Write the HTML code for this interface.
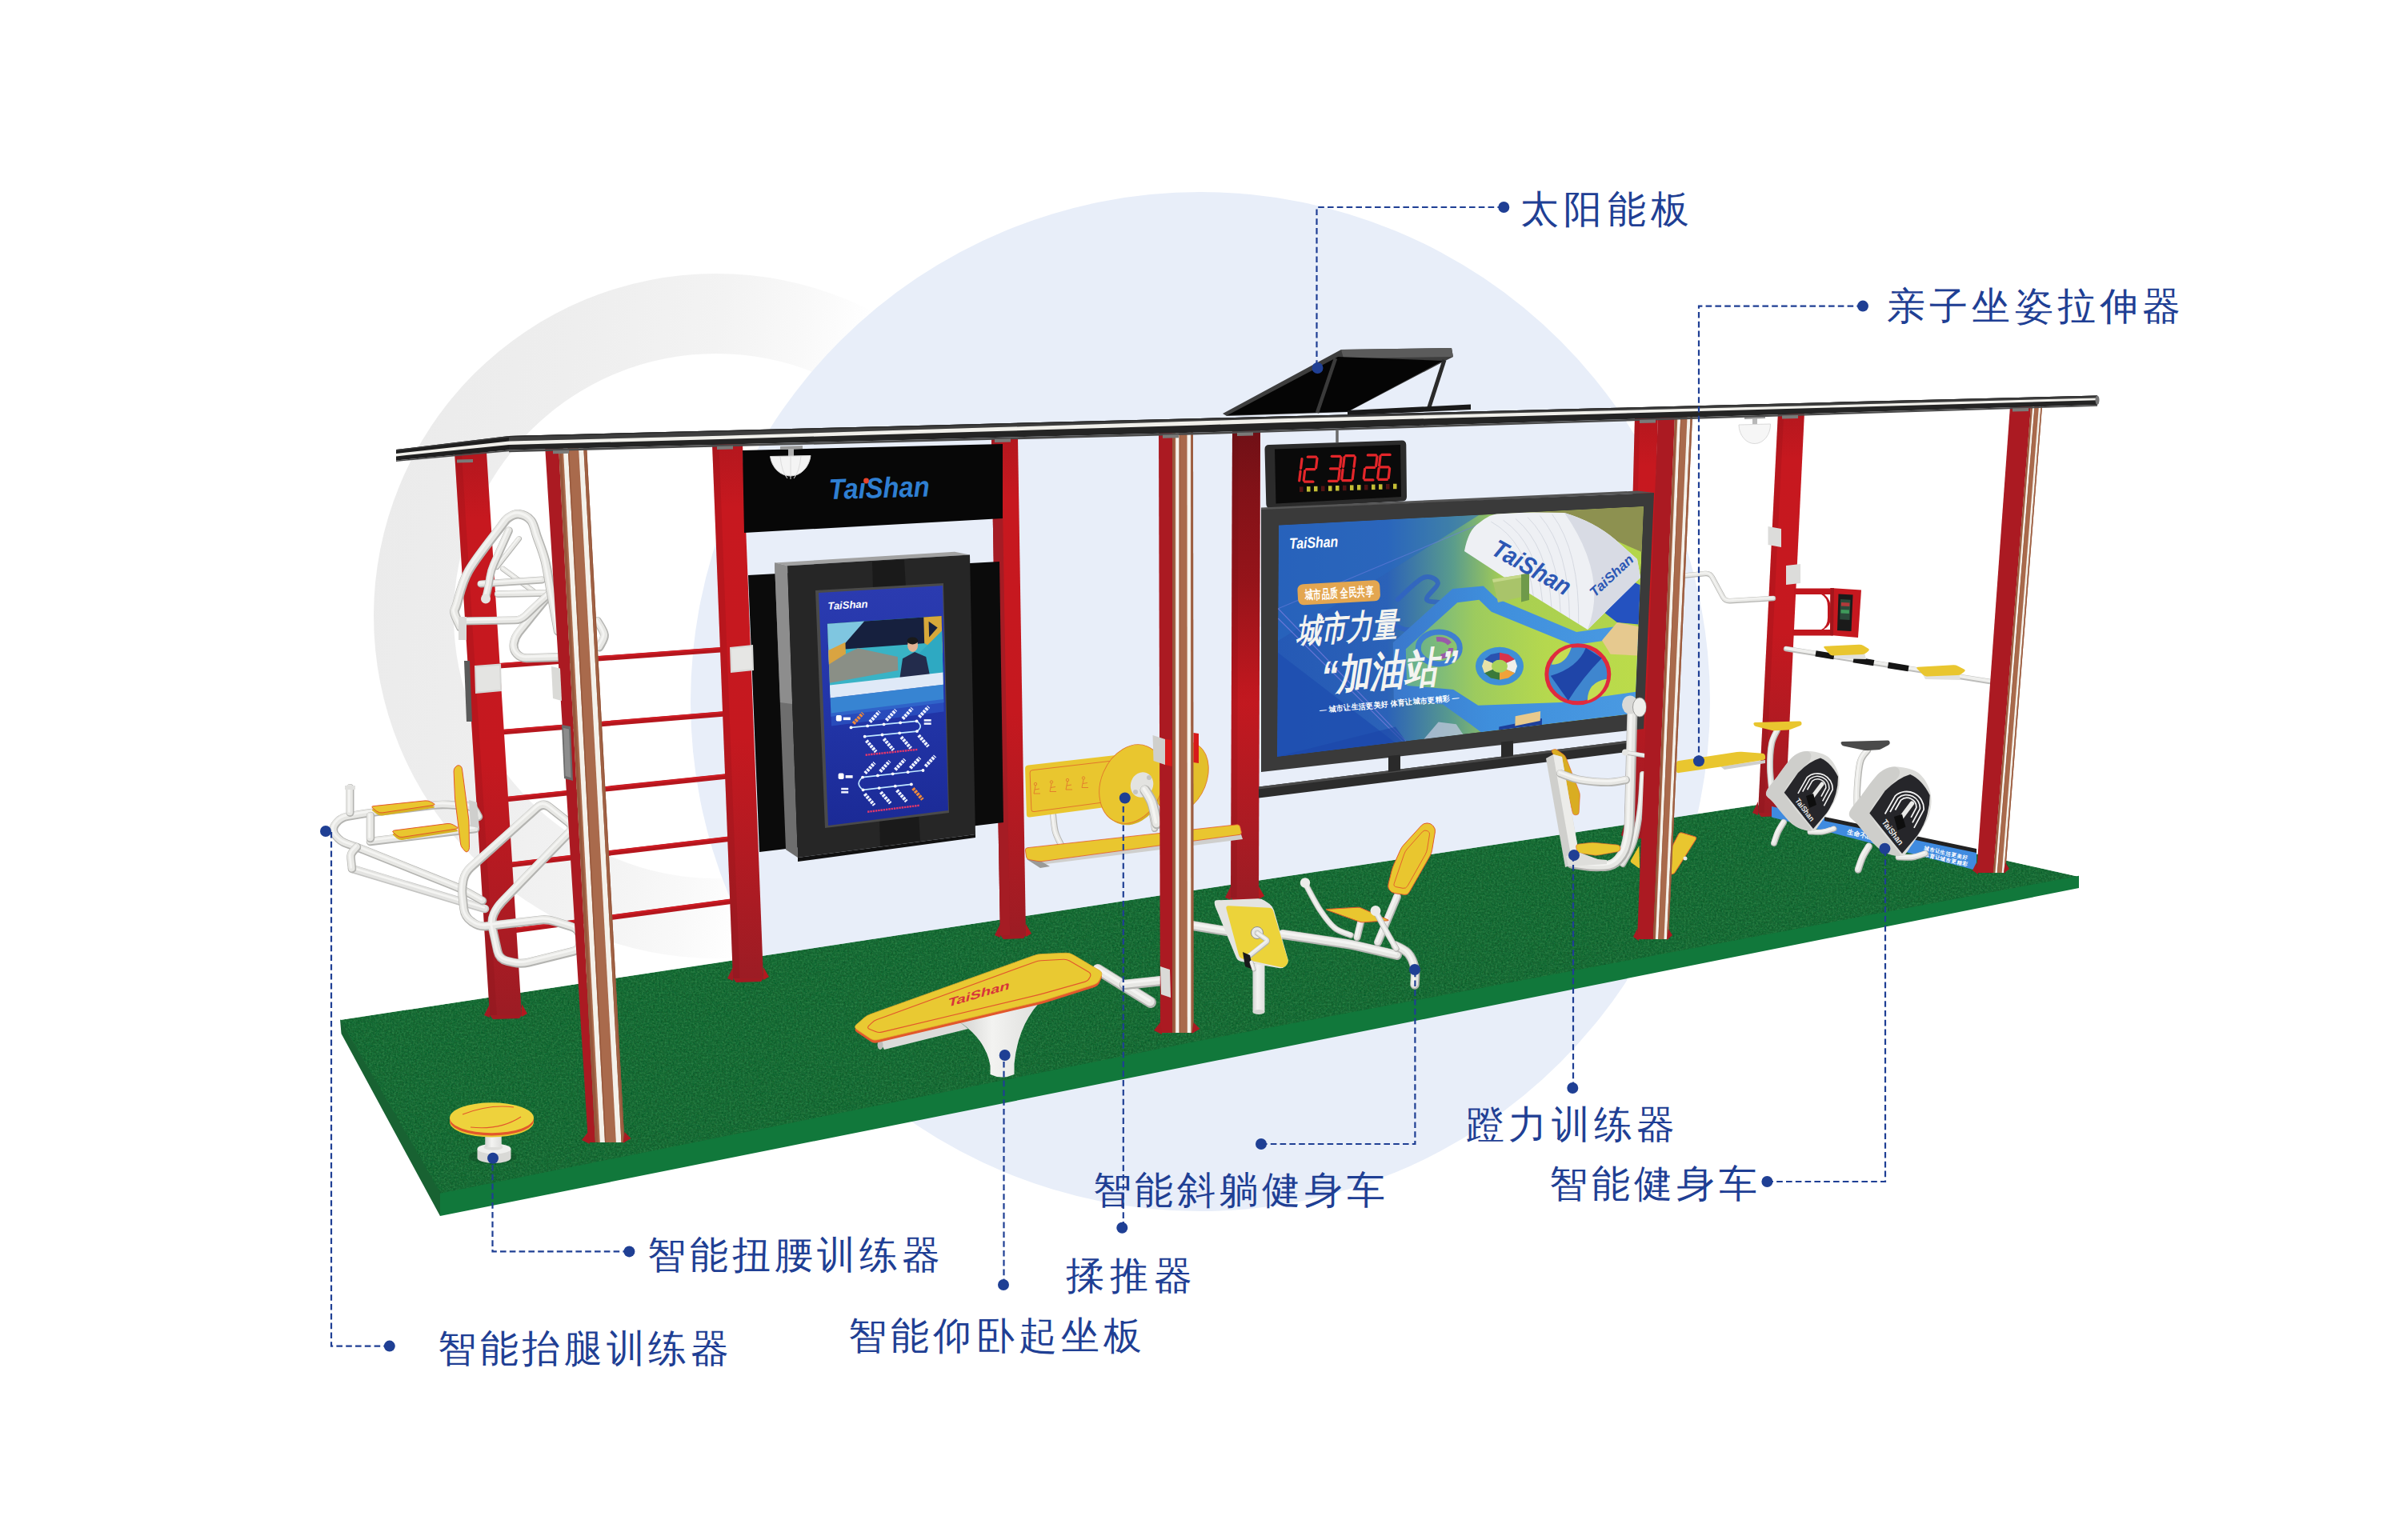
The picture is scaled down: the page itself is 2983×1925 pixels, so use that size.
<!DOCTYPE html>
<html><head><meta charset="utf-8"><title>TaiShan smart fitness station</title>
<style>html,body{margin:0;padding:0;background:#fff}svg{display:block}text{font-family:"Liberation Sans",sans-serif}</style>
</head><body>
<svg width="2983" height="1925" viewBox="0 0 2983 1925">
<defs>
<linearGradient id="ringg" x1="0" y1="0" x2="1" y2="0.21">
 <stop offset="0" stop-color="#eaeaea"/><stop offset="0.3" stop-color="#eeeeee"/><stop offset="0.5" stop-color="#f3f3f3"/><stop offset="0.62" stop-color="#f9f9f9"/><stop offset="0.71" stop-color="#ffffff"/><stop offset="1" stop-color="#ffffff"/>
</linearGradient>
<filter id="grass" x="0" y="0" width="100%" height="100%">
 <feTurbulence type="fractalNoise" baseFrequency="0.42" numOctaves="2" seed="3" result="n"/>
 <feColorMatrix in="n" type="matrix" values="0 0 0 0 0  0 0 0 0 0  0 0 0 0 0  0.9 0 0 0 -0.32" result="a"/>
 <feFlood flood-color="#0c3f1e"/><feComposite in2="a" operator="in" result="dark"/>
 <feColorMatrix in="n" type="matrix" values="0 0 0 0 0  0 0 0 0 0  0 0 0 0 0  0 0.9 0 0 -0.36" result="b"/>
 <feFlood flood-color="#3a9a58"/><feComposite in2="b" operator="in" result="light"/>
 <feMerge><feMergeNode in="SourceGraphic"/><feMergeNode in="dark"/><feMergeNode in="light"/></feMerge>
 <feComposite in2="SourceGraphic" operator="in"/>
</filter>
<linearGradient id="redp" x1="0" y1="0" x2="1" y2="0">
 <stop offset="0" stop-color="#a81a22"/><stop offset="0.35" stop-color="#c4181f"/><stop offset="1" stop-color="#c9191f"/>
</linearGradient>
<linearGradient id="redd" x1="0" y1="0" x2="1" y2="0">
 <stop offset="0" stop-color="#9c1c24"/><stop offset="1" stop-color="#ab1b23"/>
</linearGradient>
<linearGradient id="posterg" x1="0" y1="0" x2="1" y2="0">
 <stop offset="0" stop-color="#2559b5"/><stop offset="0.3" stop-color="#2b62b8"/><stop offset="0.48" stop-color="#5a9c8c"/><stop offset="0.62" stop-color="#a8cf52"/><stop offset="1" stop-color="#b4d64a"/>
</linearGradient>
<linearGradient id="kioskg" x1="0" y1="0" x2="0" y2="1">
 <stop offset="0" stop-color="#2b3bb0"/><stop offset="0.5" stop-color="#2235a8"/><stop offset="1" stop-color="#1b2a96"/>
</linearGradient>
<linearGradient id="whiteg" x1="0" y1="0" x2="1" y2="0">
 <stop offset="0" stop-color="#d4d4d2"/><stop offset="0.4" stop-color="#f3f3f1"/><stop offset="1" stop-color="#dededc"/>
</linearGradient>
</defs>
<rect x="0" y="0" width="2983" height="1925" fill="#ffffff"/>
<path d="M895 342 A428 428 0 1 0 895.01 1198 A428 428 0 1 0 895 342 Z M895 442 A328 328 0 1 1 894.99 1098 A328 328 0 1 1 895 442 Z" fill="url(#ringg)" fill-rule="evenodd"/>
<circle cx="1500.0" cy="877.0" r="637.0" fill="#e8eef9" />
<polygon points="425.0,1275.0 550.0,1493.0 1500.0,1302.0 2598.0,1096.0 2196.0,1006.0" fill="#1c6a36" filter="url(#grass)"/>
<polygon points="425.0,1274.0 551.0,1492.0 550.0,1520.0 426.5,1292.0" fill="#186232" />
<polygon points="550.0,1491.8 1500.0,1300.8 2598.0,1094.8 2598.0,1110.0 550.0,1520.0" fill="#11783b" />
<line x1="620.0" y1="832.5" x2="904.0" y2="812.0" stroke="#b5161d" stroke-width="6.5" />
<line x1="620.0" y1="830.5" x2="904.0" y2="810.0" stroke="#d01c24" stroke-width="2" />
<line x1="623.0" y1="915.5" x2="909.0" y2="892.0" stroke="#b5161d" stroke-width="6.5" />
<line x1="623.0" y1="913.5" x2="909.0" y2="890.0" stroke="#d01c24" stroke-width="2" />
<line x1="629.0" y1="999.5" x2="912.0" y2="970.0" stroke="#b5161d" stroke-width="6.5" />
<line x1="629.0" y1="997.5" x2="912.0" y2="968.0" stroke="#d01c24" stroke-width="2" />
<line x1="634.0" y1="1081.5" x2="917.0" y2="1048.0" stroke="#b5161d" stroke-width="6.5" />
<line x1="634.0" y1="1079.5" x2="917.0" y2="1046.0" stroke="#d01c24" stroke-width="2" />
<line x1="639.0" y1="1163.5" x2="919.0" y2="1126.0" stroke="#b5161d" stroke-width="6.5" />
<line x1="639.0" y1="1161.5" x2="919.0" y2="1124.0" stroke="#d01c24" stroke-width="2" />
<linearGradient id="pg1" gradientUnits="userSpaceOnUse" x1="0" y1="565" x2="0" y2="1269"><stop offset="0" stop-color="#b4171e"/><stop offset="0.12" stop-color="#c7181f"/><stop offset="0.55" stop-color="#c5181f"/><stop offset="0.85" stop-color="#ab1b23"/><stop offset="1" stop-color="#9c1c24"/></linearGradient>
<polygon points="568.0,565.0 608.0,565.0 652.0,1269.0 612.0,1269.0" fill="url(#pg1)" />
<polygon points="568.0,565.0 576.8,565.0 620.8,1269.0 612.0,1269.0" fill="#7a0f16" opacity="0.18"/>
<polygon points="612.0,1255.0 605.0,1269.0 612.0,1272.0" fill="#a31a22" />
<polygon points="652.0,1255.0 659.0,1267.0 652.0,1271.0" fill="#b3181f" />
<polygon points="612.0,1269.0 652.0,1269.0 649.0,1273.0 616.0,1274.0" fill="#a31a22" />
<linearGradient id="pg2" gradientUnits="userSpaceOnUse" x1="0" y1="555" x2="0" y2="1223"><stop offset="0" stop-color="#b4171e"/><stop offset="0.12" stop-color="#c7181f"/><stop offset="0.55" stop-color="#c5181f"/><stop offset="0.85" stop-color="#ab1b23"/><stop offset="1" stop-color="#9c1c24"/></linearGradient>
<polygon points="890.0,555.0 928.0,555.0 954.0,1223.0 916.0,1223.0" fill="url(#pg2)" />
<polygon points="890.0,555.0 898.4,555.0 924.4,1223.0 916.0,1223.0" fill="#7a0f16" opacity="0.18"/>
<polygon points="916.0,1209.0 909.0,1223.0 916.0,1226.0" fill="#a31a22" />
<polygon points="954.0,1209.0 961.0,1221.0 954.0,1225.0" fill="#b3181f" />
<polygon points="916.0,1223.0 954.0,1223.0 951.0,1227.0 920.0,1228.0" fill="#a31a22" />
<linearGradient id="pg3" gradientUnits="userSpaceOnUse" x1="0" y1="548" x2="0" y2="1169"><stop offset="0" stop-color="#b4171e"/><stop offset="0.12" stop-color="#c7181f"/><stop offset="0.55" stop-color="#c5181f"/><stop offset="0.85" stop-color="#ab1b23"/><stop offset="1" stop-color="#9c1c24"/></linearGradient>
<polygon points="1239.0,548.0 1272.0,548.0 1282.0,1169.0 1250.0,1169.0" fill="url(#pg3)" />
<polygon points="1239.0,548.0 1246.3,548.0 1257.0,1169.0 1250.0,1169.0" fill="#7a0f16" opacity="0.18"/>
<polygon points="1239.0,548.0 1251.5,548.0 1262.2,1169.0 1250.0,1169.0" fill="#a51c24" />
<polygon points="1250.0,1155.0 1243.0,1169.0 1250.0,1172.0" fill="#a31a22" />
<polygon points="1282.0,1155.0 1289.0,1167.0 1282.0,1171.0" fill="#b3181f" />
<polygon points="1250.0,1169.0 1282.0,1169.0 1279.0,1173.0 1254.0,1174.0" fill="#a31a22" />
<linearGradient id="pg4" gradientUnits="userSpaceOnUse" x1="0" y1="538" x2="0" y2="1122"><stop offset="0" stop-color="#b4171e"/><stop offset="0.12" stop-color="#c7181f"/><stop offset="0.55" stop-color="#c5181f"/><stop offset="0.85" stop-color="#ab1b23"/><stop offset="1" stop-color="#9c1c24"/></linearGradient>
<polygon points="1540.0,538.0 1575.0,538.0 1573.0,1122.0 1538.0,1122.0" fill="url(#pg4)" />
<polygon points="1540.0,538.0 1547.7,538.0 1545.7,1122.0 1538.0,1122.0" fill="#7a0f16" opacity="0.18"/>
<polygon points="1538.0,1108.0 1531.0,1122.0 1538.0,1125.0" fill="#a31a22" />
<polygon points="1573.0,1108.0 1580.0,1120.0 1573.0,1124.0" fill="#b3181f" />
<polygon points="1538.0,1122.0 1573.0,1122.0 1570.0,1126.0 1542.0,1127.0" fill="#a31a22" />
<linearGradient id="p6sh" gradientUnits="userSpaceOnUse" x1="0" y1="540" x2="0" y2="880"><stop offset="0" stop-color="#5a0e13" stop-opacity="0.75"/><stop offset="0.55" stop-color="#5a0e13" stop-opacity="0.45"/><stop offset="1" stop-color="#5a0e13" stop-opacity="0"/></linearGradient>
<polygon points="1540.0,538.0 1575.0,538.0 1574.0,880.0 1539.0,880.0" fill="url(#p6sh)" />
<linearGradient id="pg5" gradientUnits="userSpaceOnUse" x1="0" y1="520" x2="0" y2="1044"><stop offset="0" stop-color="#b4171e"/><stop offset="0.12" stop-color="#c7181f"/><stop offset="0.55" stop-color="#c5181f"/><stop offset="0.85" stop-color="#ab1b23"/><stop offset="1" stop-color="#9c1c24"/></linearGradient>
<polygon points="2043.0,520.0 2072.0,520.0 2056.0,1044.0 2030.0,1044.0" fill="url(#pg5)" />
<polygon points="2043.0,520.0 2049.4,520.0 2035.7,1044.0 2030.0,1044.0" fill="#7a0f16" opacity="0.18"/>
<polygon points="2030.0,1030.0 2026.0,1044.0 2030.0,1047.0" fill="#a31a22" />
<polygon points="2056.0,1030.0 2060.0,1042.0 2056.0,1046.0" fill="#b3181f" />
<polygon points="2030.0,1044.0 2056.0,1044.0 2053.0,1048.0 2034.0,1049.0" fill="#a31a22" />
<linearGradient id="pg6" gradientUnits="userSpaceOnUse" x1="0" y1="515" x2="0" y2="1016"><stop offset="0" stop-color="#b4171e"/><stop offset="0.12" stop-color="#c7181f"/><stop offset="0.55" stop-color="#c5181f"/><stop offset="0.85" stop-color="#ab1b23"/><stop offset="1" stop-color="#9c1c24"/></linearGradient>
<polygon points="2222.0,515.0 2255.0,515.0 2231.0,1016.0 2197.0,1016.0" fill="url(#pg6)" />
<polygon points="2222.0,515.0 2229.3,515.0 2204.5,1016.0 2197.0,1016.0" fill="#7a0f16" opacity="0.18"/>
<polygon points="2197.0,1002.0 2190.0,1016.0 2197.0,1019.0" fill="#a31a22" />
<polygon points="2231.0,1002.0 2238.0,1014.0 2231.0,1018.0" fill="#b3181f" />
<polygon points="2197.0,1016.0 2231.0,1016.0 2228.0,1020.0 2201.0,1021.0" fill="#a31a22" />
<polygon points="928.0,563.0 1253.0,555.0 1253.0,648.0 930.0,666.0" fill="#070707" />
<text transform="translate(1036,624) rotate(-1.6)" font-size="36" font-weight="bold" font-style="italic" fill="#2f7fd2" textLength="126" lengthAdjust="spacingAndGlyphs">TaıShan</text>
<circle cx="1082.5" cy="601.0" r="3.4" fill="#e8442a" />
<polygon points="975.0,558.0 1003.0,557.0 1003.0,561.0 975.0,562.0" fill="#9a9a9a" />
<polygon points="985.0,561.0 992.0,561.0 992.0,571.0 985.0,571.0" fill="#b0b0b0" />
<path d="M962.5 570.5 L1013 569.5 A25.5 29 0 0 1 962.5 570.5 Z" fill="#f4f4f4" stroke="#d5d5d5" stroke-width="1"/>
<path d="M975 571 Q977 590 984 598 M988 570 L988 599 M1001 570 Q999 590 992 598" fill="none" stroke="#dcdcdc" stroke-width="1"/>
<polygon points="2180.0,521.0 2206.0,520.0 2206.0,523.0 2180.0,524.0" fill="#9a9a9a" />
<polygon points="2190.0,523.0 2196.0,523.0 2196.0,531.0 2190.0,531.0" fill="#b8b8b8" />
<path d="M2173 531 L2212.5 530 A19.7 24 0 0 1 2173 531 Z" fill="#f6f6f6" stroke="#dadada" stroke-width="1"/>
<polygon points="935.0,719.0 1249.0,702.0 1254.0,1028.0 949.0,1065.0" fill="#0b0b0b" />
<polygon points="968.0,703.5 984.0,707.3 997.0,1072.0 982.0,1062.0" fill="#6e6e6e" />
<polygon points="968.0,703.5 984.0,707.3 990.0,880.0 975.0,878.0" fill="#8d8d8d" />
<polygon points="968.0,703.5 1193.0,689.7 1212.0,693.5 984.0,707.3" fill="#a2a2a2" />
<polygon points="984.0,707.3 1212.0,693.5 1219.0,1043.0 997.0,1072.0" fill="#262626" />
<polygon points="1090.0,702.0 1130.0,699.5 1150.0,1051.0 1100.0,1058.0" fill="#1a1a1a" />
<polygon points="1019.0,738.0 1179.0,729.0 1186.0,1016.0 1031.0,1035.0" fill="#4a4a4a" />
<polygon points="1023.0,741.0 1178.0,732.0 1185.0,1013.0 1035.0,1032.0" fill="url(#kioskg)" />
<text transform="translate(1034.7,762.1) rotate(-3.3)" font-size="13" font-weight="bold" font-style="italic" fill="#ffffff">TaiShan</text>
<polygon points="1033.9,779.7 1176.6,770.1 1178.8,855.8 1037.4,868.2" fill="#39b3c6" />
<polygon points="1033.9,779.7 1176.6,770.1 1177.4,802.4 1035.2,813.1" fill="#16203e" />
<polygon points="1033.9,779.7 1080.2,776.6 1035.8,827.6" fill="#7fc6e0" />
<polygon points="1035.8,827.6 1072.1,810.3 1121.8,820.9 1122.3,837.9 1036.9,853.7" fill="#8a8f86" />
<polygon points="1035.2,813.1 1056.4,802.8 1057.0,817.2 1035.9,830.5" fill="#d9a441" />
<polygon points="1154.3,771.6 1176.6,770.1 1177.8,816.5 1155.2,804.1" fill="#d7a83a" />
<polygon points="1160.6,776.8 1171.6,784.5 1161.1,796.6" fill="#16203e" />
<polygon points="1149.3,815.9 1177.1,788.4 1178.4,841.8 1150.1,844.2" fill="#2ea9c2" />
<polygon points="1124.2,849.2 1128.0,823.2 1143.1,814.9 1157.2,820.9 1162.4,846.0" fill="#232c4c" />
<ellipse cx="1140.6" cy="806.6" rx="6.5" ry="8.5" fill="#e2b394"/>
<ellipse cx="1140.4" cy="800.9" rx="6.8" ry="4.5" fill="#1a1a1a"/>
<polygon points="1037.0,856.6 1178.4,840.4 1178.8,855.8 1037.6,872.6" fill="#dfe9f7" />
<polygon points="1037.6,872.6 1178.8,855.8 1179.4,878.3 1038.6,895.8" fill="#3f9fe0" opacity="0.75"/>
<polygon points="1038.4,891.5 1179.2,874.1 1179.6,889.6 1039.0,907.4" fill="#2c56c4" opacity="0.7"/>
<path d="M1063.5 909.4 L1145.6 901.4 Q1154.6 907.7 1146.0 914.1 L1080.7 920.7" fill="none" stroke="#bfe6ff" stroke-width="1.7"/>
<circle cx="1063.5" cy="909.4" r="1.9" fill="#ffffff" />
<line x1="1066.5" y1="904.4" x2="1078.5" y2="891.4" stroke="#f08a3a" stroke-width="4.4" stroke-dasharray="3 1.1"/>
<circle cx="1084.1" cy="907.4" r="1.9" fill="#ffffff" />
<line x1="1087.1" y1="902.4" x2="1099.1" y2="889.4" stroke="#eef2ff" stroke-width="4.4" stroke-dasharray="3 1.1"/>
<circle cx="1104.6" cy="905.4" r="1.9" fill="#ffffff" />
<line x1="1107.6" y1="900.4" x2="1119.6" y2="887.4" stroke="#eef2ff" stroke-width="4.4" stroke-dasharray="3 1.1"/>
<circle cx="1125.1" cy="903.4" r="1.9" fill="#ffffff" />
<line x1="1128.1" y1="898.4" x2="1140.1" y2="885.4" stroke="#eef2ff" stroke-width="4.4" stroke-dasharray="3 1.1"/>
<circle cx="1145.6" cy="901.4" r="1.9" fill="#ffffff" />
<line x1="1148.6" y1="896.4" x2="1160.6" y2="883.4" stroke="#eef2ff" stroke-width="4.4" stroke-dasharray="3 1.1"/>
<circle cx="1080.7" cy="920.7" r="1.9" fill="#ffffff" />
<line x1="1082.7" y1="925.7" x2="1094.7" y2="939.7" stroke="#eef2ff" stroke-width="4.4" stroke-dasharray="3 1.1"/>
<circle cx="1102.5" cy="918.5" r="1.9" fill="#ffffff" />
<line x1="1104.5" y1="923.5" x2="1116.5" y2="937.5" stroke="#eef2ff" stroke-width="4.4" stroke-dasharray="3 1.1"/>
<circle cx="1124.2" cy="916.3" r="1.9" fill="#ffffff" />
<line x1="1126.2" y1="921.3" x2="1138.2" y2="935.3" stroke="#eef2ff" stroke-width="4.4" stroke-dasharray="3 1.1"/>
<circle cx="1146.0" cy="914.1" r="1.9" fill="#ffffff" />
<line x1="1148.0" y1="919.1" x2="1160.0" y2="933.1" stroke="#eef2ff" stroke-width="4.4" stroke-dasharray="3 1.1"/>
<path d="M1153.5 963.0 L1078.0 971.6 Q1068.0 979.5 1078.6 987.4 L1138.9 980.4" fill="none" stroke="#bfe6ff" stroke-width="1.7"/>
<circle cx="1153.5" cy="963.0" r="1.9" fill="#ffffff" />
<line x1="1156.5" y1="958.0" x2="1168.5" y2="945.0" stroke="#eef2ff" stroke-width="4.4" stroke-dasharray="3 1.1"/>
<circle cx="1134.6" cy="965.2" r="1.9" fill="#ffffff" />
<line x1="1137.6" y1="960.2" x2="1149.6" y2="947.2" stroke="#eef2ff" stroke-width="4.4" stroke-dasharray="3 1.1"/>
<circle cx="1115.7" cy="967.3" r="1.9" fill="#ffffff" />
<line x1="1118.7" y1="962.3" x2="1130.7" y2="949.3" stroke="#eef2ff" stroke-width="4.4" stroke-dasharray="3 1.1"/>
<circle cx="1096.9" cy="969.4" r="1.9" fill="#ffffff" />
<line x1="1099.9" y1="964.4" x2="1111.9" y2="951.4" stroke="#eef2ff" stroke-width="4.4" stroke-dasharray="3 1.1"/>
<circle cx="1078.0" cy="971.6" r="1.9" fill="#ffffff" />
<line x1="1081.0" y1="966.6" x2="1093.0" y2="953.6" stroke="#eef2ff" stroke-width="4.4" stroke-dasharray="3 1.1"/>
<circle cx="1138.9" cy="980.4" r="1.9" fill="#ffffff" />
<line x1="1140.9" y1="985.4" x2="1152.9" y2="999.4" stroke="#f08a3a" stroke-width="4.4" stroke-dasharray="3 1.1"/>
<circle cx="1118.8" cy="982.7" r="1.9" fill="#ffffff" />
<line x1="1120.8" y1="987.7" x2="1132.8" y2="1001.7" stroke="#eef2ff" stroke-width="4.4" stroke-dasharray="3 1.1"/>
<circle cx="1098.7" cy="985.1" r="1.9" fill="#ffffff" />
<line x1="1100.7" y1="990.1" x2="1112.7" y2="1004.1" stroke="#eef2ff" stroke-width="4.4" stroke-dasharray="3 1.1"/>
<circle cx="1078.6" cy="987.4" r="1.9" fill="#ffffff" />
<line x1="1080.6" y1="992.4" x2="1092.6" y2="1006.4" stroke="#eef2ff" stroke-width="4.4" stroke-dasharray="3 1.1"/>
<line x1="1081.6" y1="943.7" x2="1146.7" y2="936.8" stroke="#e2386b" stroke-width="2.4" stroke-dasharray="2.4 0.9"/>
<line x1="1084.1" y1="1014.8" x2="1148.7" y2="1006.8" stroke="#e2386b" stroke-width="2.4" stroke-dasharray="2.4 0.9"/>
<rect x="1044.8" y="894.1" width="7" height="7.5" rx="1.8" fill="#fff"/><rect x="1053.8" y="896.6" width="9" height="3.5" fill="#fff"/>
<rect x="1047.6" y="966.6" width="7" height="7.5" rx="1.8" fill="#fff"/><rect x="1056.6" y="969.1" width="9" height="3.5" fill="#fff"/>
<rect x="1154.7" y="899.1" width="9" height="2.6" fill="#eef2ff"/><rect x="1154.7" y="903.3" width="9" height="2.6" fill="#eef2ff"/>
<rect x="1051.2" y="984.8" width="9" height="2.6" fill="#eef2ff"/><rect x="1051.2" y="989.0" width="9" height="2.6" fill="#eef2ff"/>
<polygon points="997.0,1072.0 1219.0,1043.0 1219.0,1047.0 997.0,1077.0" fill="#111" />
<polygon points="912.0,809.0 941.0,806.0 942.0,838.0 913.0,841.0" fill="#d9d9d7" />
<polygon points="914.0,811.0 939.0,808.5 940.0,836.0 915.0,838.5" fill="#e6e6e4" />
<line x1="1671.0" y1="538.0" x2="1671.0" y2="553.0" stroke="#6a6a6a" stroke-width="3.5" />
<path d="M1586 556 L1752 550.5 Q1757 550.5 1757.3 556 L1758 621 Q1758 626 1753 626.5 L1588 635.5 Q1582.5 635.5 1582.3 630 L1580.5 561.5 Q1580.5 556 1586 556 Z" fill="#2b2b2b"/>
<path d="M1593 561.5 L1750 556 L1751 621 L1594.5 629.5 Z" fill="#0a0a0a"/>
<line x1="1627.0" y1="573.7" x2="1625.6" y2="585.4" stroke="#e3262a" stroke-width="3.2" stroke-linecap="round"/>
<line x1="1625.1" y1="589.2" x2="1623.7" y2="600.9" stroke="#e3262a" stroke-width="3.2" stroke-linecap="round"/>
<line x1="1634.3" y1="571.2" x2="1644.6" y2="571.2" stroke="#e3262a" stroke-width="3.2" stroke-linecap="round"/>
<line x1="1646.0" y1="573.1" x2="1644.6" y2="584.9" stroke="#e3262a" stroke-width="3.2" stroke-linecap="round"/>
<line x1="1632.5" y1="586.7" x2="1642.7" y2="586.7" stroke="#e3262a" stroke-width="3.2" stroke-linecap="round"/>
<line x1="1630.6" y1="588.6" x2="1629.2" y2="600.4" stroke="#e3262a" stroke-width="3.2" stroke-linecap="round"/>
<line x1="1630.6" y1="602.2" x2="1640.9" y2="602.2" stroke="#e3262a" stroke-width="3.2" stroke-linecap="round"/>
<line x1="1664.3" y1="570.3" x2="1674.6" y2="570.3" stroke="#e3262a" stroke-width="3.2" stroke-linecap="round"/>
<line x1="1676.0" y1="572.2" x2="1674.6" y2="583.9" stroke="#e3262a" stroke-width="3.2" stroke-linecap="round"/>
<line x1="1662.5" y1="585.8" x2="1672.7" y2="585.8" stroke="#e3262a" stroke-width="3.2" stroke-linecap="round"/>
<line x1="1674.1" y1="587.7" x2="1672.7" y2="599.4" stroke="#e3262a" stroke-width="3.2" stroke-linecap="round"/>
<line x1="1660.6" y1="601.3" x2="1670.9" y2="601.3" stroke="#e3262a" stroke-width="3.2" stroke-linecap="round"/>
<line x1="1681.8" y1="569.7" x2="1692.1" y2="569.7" stroke="#e3262a" stroke-width="3.2" stroke-linecap="round"/>
<line x1="1693.5" y1="571.6" x2="1692.1" y2="583.4" stroke="#e3262a" stroke-width="3.2" stroke-linecap="round"/>
<line x1="1691.6" y1="587.1" x2="1690.2" y2="598.9" stroke="#e3262a" stroke-width="3.2" stroke-linecap="round"/>
<line x1="1678.1" y1="600.7" x2="1688.4" y2="600.7" stroke="#e3262a" stroke-width="3.2" stroke-linecap="round"/>
<line x1="1678.1" y1="587.1" x2="1676.7" y2="598.9" stroke="#e3262a" stroke-width="3.2" stroke-linecap="round"/>
<line x1="1680.0" y1="571.6" x2="1678.6" y2="583.4" stroke="#e3262a" stroke-width="3.2" stroke-linecap="round"/>
<line x1="1709.3" y1="568.9" x2="1719.6" y2="568.9" stroke="#e3262a" stroke-width="3.2" stroke-linecap="round"/>
<line x1="1721.0" y1="570.8" x2="1719.6" y2="582.5" stroke="#e3262a" stroke-width="3.2" stroke-linecap="round"/>
<line x1="1707.5" y1="584.4" x2="1717.7" y2="584.4" stroke="#e3262a" stroke-width="3.2" stroke-linecap="round"/>
<line x1="1705.6" y1="586.3" x2="1704.2" y2="598.0" stroke="#e3262a" stroke-width="3.2" stroke-linecap="round"/>
<line x1="1705.6" y1="599.9" x2="1715.9" y2="599.9" stroke="#e3262a" stroke-width="3.2" stroke-linecap="round"/>
<line x1="1726.8" y1="568.4" x2="1737.1" y2="568.4" stroke="#e3262a" stroke-width="3.2" stroke-linecap="round"/>
<line x1="1725.0" y1="570.2" x2="1723.6" y2="582.0" stroke="#e3262a" stroke-width="3.2" stroke-linecap="round"/>
<line x1="1725.0" y1="583.9" x2="1735.2" y2="583.9" stroke="#e3262a" stroke-width="3.2" stroke-linecap="round"/>
<line x1="1723.1" y1="585.7" x2="1721.7" y2="597.5" stroke="#e3262a" stroke-width="3.2" stroke-linecap="round"/>
<line x1="1723.1" y1="599.4" x2="1733.4" y2="599.4" stroke="#e3262a" stroke-width="3.2" stroke-linecap="round"/>
<line x1="1736.6" y1="585.7" x2="1735.2" y2="597.5" stroke="#e3262a" stroke-width="3.2" stroke-linecap="round"/>
<rect x="1624" y="608.4" width="4.5" height="6.5" fill="#5a1414" opacity="0.9"/>
<rect x="1633" y="608.1" width="4.5" height="6.5" fill="#d8d23a" opacity="0.9"/>
<rect x="1642" y="607.8" width="4.5" height="6.5" fill="#d8d23a" opacity="0.9"/>
<rect x="1651" y="607.5" width="4.5" height="6.5" fill="#5a1414" opacity="0.9"/>
<rect x="1660" y="607.3" width="4.5" height="6.5" fill="#d8d23a" opacity="0.9"/>
<rect x="1669" y="607.0" width="4.5" height="6.5" fill="#d8d23a" opacity="0.9"/>
<rect x="1678" y="606.7" width="4.5" height="6.5" fill="#5a1414" opacity="0.9"/>
<rect x="1687" y="606.4" width="4.5" height="6.5" fill="#d8d23a" opacity="0.9"/>
<rect x="1696" y="606.1" width="4.5" height="6.5" fill="#d8d23a" opacity="0.9"/>
<rect x="1705" y="605.9" width="4.5" height="6.5" fill="#5a1414" opacity="0.9"/>
<rect x="1714" y="605.6" width="4.5" height="6.5" fill="#d8d23a" opacity="0.9"/>
<rect x="1723" y="605.3" width="4.5" height="6.5" fill="#d8d23a" opacity="0.9"/>
<rect x="1732" y="605.0" width="4.5" height="6.5" fill="#5a1414" opacity="0.9"/>
<rect x="1741" y="604.7" width="4.5" height="6.5" fill="#d8d23a" opacity="0.9"/>
<polygon points="1576.0,634.5 2046.0,613.5 2067.0,616.0 1576.0,638.0" fill="#555" />
<polygon points="1576.0,637.0 2067.0,616.0 2054.0,911.0 1576.0,965.0" fill="#3a3a3a" />
<clipPath id="bigclip"><polygon points="1598.0,656.5 2054.0,633.0 2043.0,892.0 1596.0,946.0"/></clipPath>
<g clip-path="url(#bigclip)">
<polygon points="1598.0,656.5 2054.0,633.0 2043.0,892.0 1596.0,946.0" fill="url(#posterg)"/>
<polygon points="1596.9,815.7 1743.5,928.2 1596.0,946.0" fill="#1f4fb0" opacity="0.85"/>
<polygon points="1598.0,656.5 1848.8,643.6 1597.0,801.2" fill="#2a6ac0" opacity="0.55"/>
<line x1="1597.3" y1="760.7" x2="1756.9" y2="926.6" stroke="#7f7fe0" stroke-width="1.3" opacity="0.7"/>
<line x1="1597.2" y1="773.0" x2="1752.7" y2="926.6" stroke="#7f7fe0" stroke-width="1.3" opacity="0.7"/>
<line x1="1597.3" y1="760.7" x2="1880.7" y2="641.9" stroke="#6f7fe0" stroke-width="1.2" opacity="0.55"/>
<path d="M1746.7 749.3 C1752.1 744.8 1770.5 725.4 1778.9 722.0 C1787.2 718.6 1796.2 724.4 1796.9 729.0 C1797.5 733.5 1781.4 744.9 1782.9 749.4 C1784.3 753.8 1803.9 751.4 1805.3 755.9 C1806.7 760.4 1798.9 771.1 1791.3 776.3 C1783.7 781.5 1769.3 787.4 1759.5 787.3 C1749.8 787.2 1737.2 777.6 1732.7 775.6 " fill="none" stroke="#2f62c4" stroke-width="6" opacity="0.8" stroke-linecap="round"/>
<linearGradient id="fieldg" x1="0" y1="0" x2="1" y2="0"><stop offset="0" stop-color="#62ad92"/><stop offset="0.3" stop-color="#9dcb5e"/><stop offset="0.6" stop-color="#b5d84e"/><stop offset="1" stop-color="#bbdb4a"/></linearGradient>
<linearGradient id="trackg" x1="0" y1="0" x2="1" y2="0"><stop offset="0" stop-color="#3a78cc"/><stop offset="0.4" stop-color="#3f8fdc"/><stop offset="1" stop-color="#4a9ae2"/></linearGradient>
<polygon points="1815.2,735.9 1853.8,732.5 1870.1,748.1 1970.1,790.0 2018.4,783.3 2042.6,796.6 2047.1,796.2 2043.0,892.0 1850.8,915.2 1837.2,904.9 1803.0,880.6 1741.8,874.0 1740.8,803.2" fill="url(#trackg)" />
<polygon points="1821.2,753.3 1848.4,749.8 1863.8,764.8 1965.9,806.5 2015.5,799.2 2035.2,811.5 2046.5,810.4 2044.2,864.8 1950.0,878.1 1847.2,881.7 1816.4,861.9 1758.2,856.9 1756.8,811.2" fill="url(#fieldg)" />
<polygon points="1596.0,946.0 1756.9,926.6 1743.9,908.6" fill="#1c46a8" opacity="0.6"/>
<polygon points="1873.3,908.5 1927.0,898.0 1926.8,906.0 1873.1,912.5" fill="#1d3f9a" />
<polygon points="1893.7,895.3 1925.1,888.9 1924.7,901.0 1893.3,907.4" fill="#e7c98d" />
<polygon points="1779.3,923.9 1797.6,902.4 1819.8,905.3 1828.4,917.9" fill="#b9c4d8" opacity="0.8"/>
<polygon points="1871.6,642.4 2054.0,633.0 2051.6,690.0 1962.3,651.0" fill="#8d9150" />
<polygon points="2005.6,766.2 2041.0,726.9 2049.8,731.4 2047.7,780.6 2020.9,777.9" fill="#2452c0" />
<polygon points="2002.0,800.4 2020.9,777.9 2047.6,783.2 2046.1,819.5 2012.6,817.7" fill="#e6c98f" />
<path d="M1830.0 689.0 Q1835 662 1848 654 Q1862 642 1880 640 L1955 641 Q1992 652 2018 674 L2046 699 L2050 722 L1984 787 L1905 738 Z" fill="#eef0f4"/>
<path d="M1955 641 Q1992 652 2018 674 L2046 699 L2050 722 L1984 787 Q2010 720 1955 641 Z" fill="#d8dbe4"/>
<path d="M1863.3 652.1 Q1907.8 676.6 1916.3 745.0" fill="none" stroke="#cfd3dc" stroke-width="0.8"/>
<path d="M1878.6 650.3 Q1921.1 679.1 1927.6 752.0" fill="none" stroke="#cfd3dc" stroke-width="0.8"/>
<path d="M1893.9 648.4 Q1934.4 681.7 1938.9 759.0" fill="none" stroke="#cfd3dc" stroke-width="0.8"/>
<path d="M1909.1 646.6 Q1947.6 684.3 1950.1 766.0" fill="none" stroke="#cfd3dc" stroke-width="0.8"/>
<path d="M1924.4 644.7 Q1960.9 686.9 1961.4 773.0" fill="none" stroke="#cfd3dc" stroke-width="0.8"/>
<path d="M1939.7 642.9 Q1974.2 689.4 1972.7 780.0" fill="none" stroke="#cfd3dc" stroke-width="0.8"/>
<polygon points="1865.0,724.0 1901.0,718.5 1911.0,717.0 1911.0,744.0 1872.0,753.0" fill="#a9c46a" />
<polygon points="1901.0,718.0 1911.0,716.5 1911.0,750.0 1901.0,752.5" fill="#6f9a4a" />
<polygon points="1865.0,724.0 1901.0,718.5 1901.0,722.0 1866.0,728.0" fill="#c5d88a" />
<text transform="translate(1862,692) rotate(29.5)" font-size="31" font-style="italic" font-weight="bold" fill="#2c57b4" textLength="108" lengthAdjust="spacingAndGlyphs">TaiShan</text>
<text transform="translate(1993,747) rotate(-43)" font-size="17" font-style="italic" font-weight="bold" fill="#2c57b4" textLength="68" lengthAdjust="spacingAndGlyphs">TaiShan</text>
<ellipse cx="1874.0" cy="832.8" rx="30" ry="24" fill="#3f8fd6"/>
<polygon points="1874.0,815.8 1885.0,818.1 1893.1,824.3 1882.7,828.8 1874.0,824.8" fill="#d9334a" />
<polygon points="1893.1,824.3 1896.0,832.8 1893.1,841.3 1882.7,836.8 1882.7,828.8" fill="#f0f0ea" />
<polygon points="1893.1,841.3 1885.0,847.6 1874.0,849.8 1874.0,840.8 1882.7,836.8" fill="#f0a23a" />
<polygon points="1874.0,849.8 1863.0,847.6 1855.0,841.3 1865.4,836.8 1874.0,840.8" fill="#3a7a3a" />
<polygon points="1855.0,841.3 1852.0,832.8 1855.0,824.3 1865.4,828.8 1865.4,836.8" fill="#e8e2a8" />
<polygon points="1855.0,824.3 1863.0,818.1 1874.0,815.8 1874.0,824.8 1865.4,828.8" fill="#2a52b0" />
<ellipse cx="1874.0" cy="832.8" rx="10" ry="8" fill="#a9d25a"/>
<ellipse cx="1798.3" cy="809.9" rx="26" ry="20" fill="none" stroke="#3f7fd0" stroke-width="7"/>
<ellipse cx="1798.3" cy="809.9" rx="15" ry="11" fill="none" stroke="#9a5aa8" stroke-width="6" stroke-dasharray="18 40"/>
<ellipse cx="1971.8" cy="842.8" rx="39" ry="36" fill="#3f86cf" stroke="#e02a3e" stroke-width="5"/>
<path d="M1937.8 844.8 Q1971.8 834.8 1981.8 809.8 L2001.8 822.8 Q1977.8 846.8 1959.8 875.8 Z" fill="#1f45a8"/>
<path d="M1963.8 808.8 Q1957.8 830.8 1938.8 830.8 Q1943.8 814.8 1963.8 808.8 Z" fill="#c5dd52"/>
<path d="M1983.8 875.8 Q1983.8 852.8 2007.8 848.8 Q2003.8 868.8 1983.8 875.8 Z" fill="#c5dd52"/>
<text transform="translate(1611.4,686.1) rotate(-2.6)" font-size="19" font-weight="bold" font-style="italic" fill="#fff" textLength="61" lengthAdjust="spacingAndGlyphs">TaiShan</text>
<g transform="translate(1622.2,751.6) rotate(-3.2)"><rect x="0" y="-21" width="103" height="26" rx="7" fill="#e3a650"/><text x="9" y="-2" font-size="15.5" font-weight="bold" fill="#ffffff" textLength="86" lengthAdjust="spacingAndGlyphs">城市品质 全民共享</text></g>
<text transform="translate(1619.5,803.6) rotate(-4) skewX(-14)" font-size="42" font-weight="900" fill="#f4f4f0" textLength="128" lengthAdjust="spacingAndGlyphs">城市力量</text>
<text transform="translate(1648.2,864.0) rotate(-5) skewX(-14)" font-size="52" font-weight="900" fill="#f4f4f0" textLength="172" lengthAdjust="spacingAndGlyphs">“加油站”</text>
<text transform="translate(1649.3,891.0) rotate(-5.2)" font-size="9.5" font-weight="bold" fill="#ffffff" textLength="175" lengthAdjust="spacingAndGlyphs">— 城市让生活更美好 体育让城市更精彩 —</text>
</g>
<polygon points="1573.0,983.5 2033.0,926.0 2033.0,940.0 1573.0,997.5" fill="#2c2c2c" />
<polygon points="1573.0,983.5 2033.0,926.0 2033.0,929.0 1573.0,986.5" fill="#4a4a4a" />
<polygon points="1735.0,945.0 1750.0,943.5 1750.0,963.0 1735.0,965.0" fill="#2a2a2a" />
<polygon points="1876.0,927.5 1891.0,926.0 1891.0,945.0 1876.0,947.0" fill="#2a2a2a" />
<path d="M746.6 776.5 C748.1 779.4 755.0 788.6 755.4 794.0 C755.8 799.4 750.1 806.5 749.0 809.0 " fill="none" stroke="#b4b4b1" stroke-width="11" stroke-linecap="round" stroke-linejoin="round"/>
<path d="M746.6 776.5 C748.1 779.4 755.0 788.6 755.4 794.0 C755.8 799.4 750.1 806.5 749.0 809.0 " fill="none" stroke="#e7e7e4" stroke-width="8.6" stroke-linecap="round" stroke-linejoin="round" transform="translate(-0.6,-0.8)"/>
<path d="M746.6 776.5 C748.1 779.4 755.0 788.6 755.4 794.0 C755.8 799.4 750.1 806.5 749.0 809.0 " fill="none" stroke="#f4f4f2" stroke-width="2.9" stroke-linecap="round" stroke-linejoin="round" transform="translate(-1.3,-1.8)"/>
<path d="M686.3 743.8 L669.4 764.5 Q663.7 771.5 658.1 778.5 L648.4 790.6 Q643.6 796.6 642.3 804.2 L642.3 804.3 Q641.0 811.7 646.0 817.4 L646.0 817.4 Q651.0 823.0 658.5 822.8 L700.0 821.5" fill="none" stroke="#b4b4b1" stroke-width="11" stroke-linecap="round" stroke-linejoin="round"/>
<path d="M686.3 743.8 L669.4 764.5 Q663.7 771.5 658.1 778.5 L648.4 790.6 Q643.6 796.6 642.3 804.2 L642.3 804.3 Q641.0 811.7 646.0 817.4 L646.0 817.4 Q651.0 823.0 658.5 822.8 L700.0 821.5" fill="none" stroke="#e7e7e4" stroke-width="8.6" stroke-linecap="round" stroke-linejoin="round" transform="translate(-0.6,-0.8)"/>
<path d="M686.3 743.8 L669.4 764.5 Q663.7 771.5 658.1 778.5 L648.4 790.6 Q643.6 796.6 642.3 804.2 L642.3 804.3 Q641.0 811.7 646.0 817.4 L646.0 817.4 Q651.0 823.0 658.5 822.8 L700.0 821.5" fill="none" stroke="#f4f4f2" stroke-width="2.9" stroke-linecap="round" stroke-linejoin="round" transform="translate(-1.3,-1.8)"/>
<path d="M648.6 673.5 L621.0 708.6" fill="none" stroke="#b4b4b1" stroke-width="6.82" stroke-linecap="round" stroke-linejoin="round"/>
<path d="M648.6 673.5 L621.0 708.6" fill="none" stroke="#e7e7e4" stroke-width="5.3" stroke-linecap="round" stroke-linejoin="round" transform="translate(-0.3,-0.5)"/>
<path d="M648.6 673.5 L621.0 708.6" fill="none" stroke="#f4f4f2" stroke-width="1.8" stroke-linecap="round" stroke-linejoin="round" transform="translate(-0.8,-1.1)"/>
<path d="M628.5 711.0 L666.2 738.8" fill="none" stroke="#b4b4b1" stroke-width="6.82" stroke-linecap="round" stroke-linejoin="round"/>
<path d="M628.5 711.0 L666.2 738.8" fill="none" stroke="#e7e7e4" stroke-width="5.3" stroke-linecap="round" stroke-linejoin="round" transform="translate(-0.3,-0.5)"/>
<path d="M628.5 711.0 L666.2 738.8" fill="none" stroke="#f4f4f2" stroke-width="1.8" stroke-linecap="round" stroke-linejoin="round" transform="translate(-0.8,-1.1)"/>
<path d="M600.8 730.0 L677.5 725.0" fill="none" stroke="#b4b4b1" stroke-width="8.8" stroke-linecap="round" stroke-linejoin="round"/>
<path d="M600.8 730.0 L677.5 725.0" fill="none" stroke="#e7e7e4" stroke-width="6.9" stroke-linecap="round" stroke-linejoin="round" transform="translate(-0.4,-0.6)"/>
<path d="M600.8 730.0 L677.5 725.0" fill="none" stroke="#f4f4f2" stroke-width="2.3" stroke-linecap="round" stroke-linejoin="round" transform="translate(-1.1,-1.4)"/>
<path d="M622.2 742.6 L685.0 741.3" fill="none" stroke="#b4b4b1" stroke-width="8.8" stroke-linecap="round" stroke-linejoin="round"/>
<path d="M622.2 742.6 L685.0 741.3" fill="none" stroke="#e7e7e4" stroke-width="6.9" stroke-linecap="round" stroke-linejoin="round" transform="translate(-0.4,-0.6)"/>
<path d="M622.2 742.6 L685.0 741.3" fill="none" stroke="#f4f4f2" stroke-width="2.3" stroke-linecap="round" stroke-linejoin="round" transform="translate(-1.1,-1.4)"/>
<path d="M636.0 663.4 L617.0 705.6 Q613.4 713.7 612.1 722.5 L612.1 723.0 Q610.9 731.3 609.0 739.5 L607.0 747.6" fill="none" stroke="#b4b4b1" stroke-width="9.9" stroke-linecap="round" stroke-linejoin="round"/>
<path d="M636.0 663.4 L617.0 705.6 Q613.4 713.7 612.1 722.5 L612.1 723.0 Q610.9 731.3 609.0 739.5 L607.0 747.6" fill="none" stroke="#e7e7e4" stroke-width="7.7" stroke-linecap="round" stroke-linejoin="round" transform="translate(-0.5,-0.7)"/>
<path d="M636.0 663.4 L617.0 705.6 Q613.4 713.7 612.1 722.5 L612.1 723.0 Q610.9 731.3 609.0 739.5 L607.0 747.6" fill="none" stroke="#f4f4f2" stroke-width="2.6" stroke-linecap="round" stroke-linejoin="round" transform="translate(-1.2,-1.6)"/>
<circle cx="607.0" cy="748.5" r="6.0" fill="#e4e4e2" />
<path d="M575.7 776.5 L643.0 775.4 Q651.0 775.3 656.8 769.8 L671.3 756.0 Q676.2 751.4 681.2 747.0 L686.3 742.6" fill="none" stroke="#b4b4b1" stroke-width="9.9" stroke-linecap="round" stroke-linejoin="round"/>
<path d="M575.7 776.5 L643.0 775.4 Q651.0 775.3 656.8 769.8 L671.3 756.0 Q676.2 751.4 681.2 747.0 L686.3 742.6" fill="none" stroke="#e7e7e4" stroke-width="7.7" stroke-linecap="round" stroke-linejoin="round" transform="translate(-0.5,-0.7)"/>
<path d="M575.7 776.5 L643.0 775.4 Q651.0 775.3 656.8 769.8 L671.3 756.0 Q676.2 751.4 681.2 747.0 L686.3 742.6" fill="none" stroke="#f4f4f2" stroke-width="2.6" stroke-linecap="round" stroke-linejoin="round" transform="translate(-1.2,-1.6)"/>
<path d="M575.7 784.0 C574.5 781.1 569.0 771.1 568.2 766.5 C567.4 761.9 567.8 765.2 570.7 756.4 C573.6 747.6 576.5 730.0 585.7 713.7 C594.9 697.4 617.6 669.5 626.0 658.4 C634.4 647.3 632.2 649.6 636.0 647.0 C639.8 644.4 644.0 642.2 648.6 642.8 C653.2 643.4 659.9 646.1 663.7 650.8 C667.5 655.5 668.3 662.6 671.2 671.0 C674.1 679.4 678.4 689.3 681.3 701.0 C684.2 712.7 686.1 726.6 688.8 741.3 C691.5 756.0 696.1 781.0 697.6 789.0 " fill="none" stroke="#b4b4b1" stroke-width="11.55" stroke-linecap="round" stroke-linejoin="round"/>
<path d="M575.7 784.0 C574.5 781.1 569.0 771.1 568.2 766.5 C567.4 761.9 567.8 765.2 570.7 756.4 C573.6 747.6 576.5 730.0 585.7 713.7 C594.9 697.4 617.6 669.5 626.0 658.4 C634.4 647.3 632.2 649.6 636.0 647.0 C639.8 644.4 644.0 642.2 648.6 642.8 C653.2 643.4 659.9 646.1 663.7 650.8 C667.5 655.5 668.3 662.6 671.2 671.0 C674.1 679.4 678.4 689.3 681.3 701.0 C684.2 712.7 686.1 726.6 688.8 741.3 C691.5 756.0 696.1 781.0 697.6 789.0 " fill="none" stroke="#e7e7e4" stroke-width="9.0" stroke-linecap="round" stroke-linejoin="round" transform="translate(-0.6,-0.8)"/>
<path d="M575.7 784.0 C574.5 781.1 569.0 771.1 568.2 766.5 C567.4 761.9 567.8 765.2 570.7 756.4 C573.6 747.6 576.5 730.0 585.7 713.7 C594.9 697.4 617.6 669.5 626.0 658.4 C634.4 647.3 632.2 649.6 636.0 647.0 C639.8 644.4 644.0 642.2 648.6 642.8 C653.2 643.4 659.9 646.1 663.7 650.8 C667.5 655.5 668.3 662.6 671.2 671.0 C674.1 679.4 678.4 689.3 681.3 701.0 C684.2 712.7 686.1 726.6 688.8 741.3 C691.5 756.0 696.1 781.0 697.6 789.0 " fill="none" stroke="#f4f4f2" stroke-width="3.0" stroke-linecap="round" stroke-linejoin="round" transform="translate(-1.4,-1.8)"/>
<polygon points="573.0,771.0 583.0,771.0 583.0,800.0 573.0,800.0" fill="#dadad8" />
<path d="M440.0 1086.0 L570.3 1125.3 Q576.0 1127.0 581.7 1128.7 L606.0 1136.0" fill="none" stroke="#c4c4c2" stroke-width="10.5" stroke-linecap="round" stroke-linejoin="round"/>
<path d="M440.0 1086.0 L570.3 1125.3 Q576.0 1127.0 581.7 1128.7 L606.0 1136.0" fill="none" stroke="#e3e3e1" stroke-width="8.2" stroke-linecap="round" stroke-linejoin="round" transform="translate(-0.5,-0.7)"/>
<path d="M440.0 1086.0 L570.3 1125.3 Q576.0 1127.0 581.7 1128.7 L606.0 1136.0" fill="none" stroke="#f4f4f2" stroke-width="2.7" stroke-linecap="round" stroke-linejoin="round" transform="translate(-1.3,-1.7)"/>
<path d="M598.0 1021.0 L594.5 1014.5 Q591.0 1008.0 583.6 1007.5 L560.0 1006.1 Q551.0 1005.5 542.1 1006.6 L471.9 1014.9 Q463.0 1016.0 454.1 1017.4 L434.9 1020.6 Q426.0 1022.0 420.4 1029.0 L419.6 1030.0 Q414.0 1037.0 419.3 1044.3 L419.7 1044.7 Q425.0 1052.0 433.5 1054.8 L437.5 1056.2 Q446.0 1059.0 454.4 1062.3 L567.6 1107.7 Q576.0 1111.0 583.9 1115.4 L603.0 1126.0" fill="none" stroke="#b4b4b1" stroke-width="10.5" stroke-linecap="round" stroke-linejoin="round"/>
<path d="M598.0 1021.0 L594.5 1014.5 Q591.0 1008.0 583.6 1007.5 L560.0 1006.1 Q551.0 1005.5 542.1 1006.6 L471.9 1014.9 Q463.0 1016.0 454.1 1017.4 L434.9 1020.6 Q426.0 1022.0 420.4 1029.0 L419.6 1030.0 Q414.0 1037.0 419.3 1044.3 L419.7 1044.7 Q425.0 1052.0 433.5 1054.8 L437.5 1056.2 Q446.0 1059.0 454.4 1062.3 L567.6 1107.7 Q576.0 1111.0 583.9 1115.4 L603.0 1126.0" fill="none" stroke="#e7e7e4" stroke-width="8.2" stroke-linecap="round" stroke-linejoin="round" transform="translate(-0.5,-0.7)"/>
<path d="M598.0 1021.0 L594.5 1014.5 Q591.0 1008.0 583.6 1007.5 L560.0 1006.1 Q551.0 1005.5 542.1 1006.6 L471.9 1014.9 Q463.0 1016.0 454.1 1017.4 L434.9 1020.6 Q426.0 1022.0 420.4 1029.0 L419.6 1030.0 Q414.0 1037.0 419.3 1044.3 L419.7 1044.7 Q425.0 1052.0 433.5 1054.8 L437.5 1056.2 Q446.0 1059.0 454.4 1062.3 L567.6 1107.7 Q576.0 1111.0 583.9 1115.4 L603.0 1126.0" fill="none" stroke="#f4f4f2" stroke-width="2.7" stroke-linecap="round" stroke-linejoin="round" transform="translate(-1.3,-1.7)"/>
<path d="M463.0 1052.0 L594.0 1036.0" fill="none" stroke="#b4b4b1" stroke-width="10.5" stroke-linecap="round" stroke-linejoin="round"/>
<path d="M463.0 1052.0 L594.0 1036.0" fill="none" stroke="#e7e7e4" stroke-width="8.2" stroke-linecap="round" stroke-linejoin="round" transform="translate(-0.5,-0.7)"/>
<path d="M463.0 1052.0 L594.0 1036.0" fill="none" stroke="#f4f4f2" stroke-width="2.7" stroke-linecap="round" stroke-linejoin="round" transform="translate(-1.3,-1.7)"/>
<path d="M446.0 1059.0 L441.3 1064.3 Q438.0 1068.0 438.6 1073.0 L440.0 1086.0" fill="none" stroke="#b4b4b1" stroke-width="10.5" stroke-linecap="round" stroke-linejoin="round"/>
<path d="M446.0 1059.0 L441.3 1064.3 Q438.0 1068.0 438.6 1073.0 L440.0 1086.0" fill="none" stroke="#e7e7e4" stroke-width="8.2" stroke-linecap="round" stroke-linejoin="round" transform="translate(-0.5,-0.7)"/>
<path d="M446.0 1059.0 L441.3 1064.3 Q438.0 1068.0 438.6 1073.0 L440.0 1086.0" fill="none" stroke="#f4f4f2" stroke-width="2.7" stroke-linecap="round" stroke-linejoin="round" transform="translate(-1.3,-1.7)"/>
<path d="M437.5 985.0 L437.5 1016.0" fill="none" stroke="#b4b4b1" stroke-width="9.975" stroke-linecap="round" stroke-linejoin="round"/>
<path d="M437.5 985.0 L437.5 1016.0" fill="none" stroke="#e7e7e4" stroke-width="7.8" stroke-linecap="round" stroke-linejoin="round" transform="translate(-0.5,-0.7)"/>
<path d="M437.5 985.0 L437.5 1016.0" fill="none" stroke="#f4f4f2" stroke-width="2.6" stroke-linecap="round" stroke-linejoin="round" transform="translate(-1.2,-1.6)"/>
<polygon points="431.0,982.0 444.0,982.0 444.0,987.0 431.0,987.0" fill="#e1e1df" />
<path d="M463.0 1020.0 L463.0 1048.0" fill="none" stroke="#b4b4b1" stroke-width="10.5" stroke-linecap="round" stroke-linejoin="round"/>
<path d="M463.0 1020.0 L463.0 1048.0" fill="none" stroke="#e7e7e4" stroke-width="8.2" stroke-linecap="round" stroke-linejoin="round" transform="translate(-0.5,-0.7)"/>
<path d="M463.0 1020.0 L463.0 1048.0" fill="none" stroke="#f4f4f2" stroke-width="2.7" stroke-linecap="round" stroke-linejoin="round" transform="translate(-1.3,-1.7)"/>
<path d="M466.2 1013.9 Q463.0 1011.5 467.0 1011.1 L531.0 1004.4 Q535.0 1004.0 538.5 1005.9 L541.5 1007.6 Q545.0 1009.5 541.0 1010.1 L478.0 1019.4 Q474.0 1020.0 470.8 1017.6 Z" fill="#d8b224" stroke="#e2572c" stroke-width="0" stroke-linejoin="round"/>
<path d="M466.2 1010.4 Q463.0 1008.0 467.0 1007.6 L531.0 1000.9 Q535.0 1000.5 538.5 1002.4 L541.5 1004.1 Q545.0 1006.0 541.0 1006.6 L478.0 1015.9 Q474.0 1016.5 470.8 1014.1 Z" fill="#e9c62f" stroke="#e2572c" stroke-width="1.0" stroke-linejoin="round"/>
<path d="M492.0 1044.6 Q489.0 1042.0 493.0 1041.5 L559.0 1033.0 Q563.0 1032.5 566.4 1034.5 L570.6 1037.0 Q574.0 1039.0 570.0 1039.6 L503.0 1049.9 Q499.0 1050.5 496.0 1047.9 Z" fill="#d8b224" stroke="#e2572c" stroke-width="0" stroke-linejoin="round"/>
<path d="M492.0 1041.1 Q489.0 1038.5 493.0 1038.0 L559.0 1029.5 Q563.0 1029.0 566.4 1031.0 L570.6 1033.5 Q574.0 1035.5 570.0 1036.1 L503.0 1046.4 Q499.0 1047.0 496.0 1044.4 Z" fill="#e9c62f" stroke="#e2572c" stroke-width="1.0" stroke-linejoin="round"/>
<path d="M567.1 964.0 Q567.0 961.0 569.1 958.9 L570.1 957.9 Q572.0 956.0 574.5 957.0 L574.5 957.0 Q577.0 958.0 577.4 960.7 L585.6 1023.0 Q586.0 1026.0 586.0 1029.0 L586.5 1059.3 Q586.5 1062.0 584.8 1064.0 L584.8 1064.0 Q583.0 1066.0 581.2 1064.0 L578.0 1060.3 Q576.0 1058.0 575.6 1055.0 L568.9 1001.0 Q568.5 998.0 568.4 995.0 Z" fill="#e9c62f" stroke="#e2572c" stroke-width="1.0" stroke-linejoin="round"/>
<polygon points="586.0,1000.0 596.0,1003.0 599.0,1035.0 588.0,1033.0" fill="#cfcfcd" />
<path d="M671.6 1009.7 Q679.0 1003.0 686.8 1009.2 L710.2 1027.8 Q718.0 1034.0 711.0 1041.2 L627.5 1127.3 Q621.0 1134.0 617.2 1142.5 L617.2 1142.5 Q613.5 1151.0 615.5 1160.1 L621.9 1189.2 Q624.0 1199.0 633.7 1201.3 L641.3 1203.2 Q651.0 1205.5 660.7 1203.1 L716.3 1189.4 Q726.0 1187.0 725.2 1177.0 L724.8 1171.5 Q724.0 1161.5 714.5 1158.5 L693.5 1152.0 Q684.0 1149.0 674.1 1150.2 L608.9 1157.8 Q599.0 1159.0 590.9 1153.1 L589.1 1151.9 Q581.0 1146.0 579.8 1136.1 L578.2 1121.9 Q577.0 1112.0 578.9 1102.2 L579.1 1100.8 Q581.0 1091.0 588.4 1084.3 Z" fill="none" stroke="#b4b4b1" stroke-width="11.0" stroke-linecap="round" stroke-linejoin="round"/>
<path d="M671.6 1009.7 Q679.0 1003.0 686.8 1009.2 L710.2 1027.8 Q718.0 1034.0 711.0 1041.2 L627.5 1127.3 Q621.0 1134.0 617.2 1142.5 L617.2 1142.5 Q613.5 1151.0 615.5 1160.1 L621.9 1189.2 Q624.0 1199.0 633.7 1201.3 L641.3 1203.2 Q651.0 1205.5 660.7 1203.1 L716.3 1189.4 Q726.0 1187.0 725.2 1177.0 L724.8 1171.5 Q724.0 1161.5 714.5 1158.5 L693.5 1152.0 Q684.0 1149.0 674.1 1150.2 L608.9 1157.8 Q599.0 1159.0 590.9 1153.1 L589.1 1151.9 Q581.0 1146.0 579.8 1136.1 L578.2 1121.9 Q577.0 1112.0 578.9 1102.2 L579.1 1100.8 Q581.0 1091.0 588.4 1084.3 Z" fill="none" stroke="#e7e7e4" stroke-width="8.6" stroke-linecap="round" stroke-linejoin="round" transform="translate(-0.6,-0.8)"/>
<path d="M671.6 1009.7 Q679.0 1003.0 686.8 1009.2 L710.2 1027.8 Q718.0 1034.0 711.0 1041.2 L627.5 1127.3 Q621.0 1134.0 617.2 1142.5 L617.2 1142.5 Q613.5 1151.0 615.5 1160.1 L621.9 1189.2 Q624.0 1199.0 633.7 1201.3 L641.3 1203.2 Q651.0 1205.5 660.7 1203.1 L716.3 1189.4 Q726.0 1187.0 725.2 1177.0 L724.8 1171.5 Q724.0 1161.5 714.5 1158.5 L693.5 1152.0 Q684.0 1149.0 674.1 1150.2 L608.9 1157.8 Q599.0 1159.0 590.9 1153.1 L589.1 1151.9 Q581.0 1146.0 579.8 1136.1 L578.2 1121.9 Q577.0 1112.0 578.9 1102.2 L579.1 1100.8 Q581.0 1091.0 588.4 1084.3 Z" fill="none" stroke="#f4f4f2" stroke-width="2.9" stroke-linecap="round" stroke-linejoin="round" transform="translate(-1.3,-1.8)"/>
<polygon points="724.0,1155.0 733.0,1158.0 733.0,1192.0 724.0,1189.0" fill="#d8d8d6" />
<polygon points="710.0,998.0 720.0,1001.0 721.0,1030.0 712.0,1026.0" fill="#d0d0ce" />
<polygon points="593.0,832.0 626.0,829.5 627.0,864.0 594.0,867.0" fill="#d6d6d4" />
<polygon points="595.0,834.0 624.0,832.0 625.0,862.0 596.0,864.5" fill="#e4e4e2" />
<polygon points="580.0,826.0 587.0,826.0 590.0,902.0 583.0,902.0" fill="#5a5a5a" />
<ellipse cx="616" cy="1446" rx="30" ry="9" fill="#0d4a24" opacity="0.45"/>
<polygon points="606.5,1416.0 626.5,1416.0 626.5,1436.0 606.5,1436.0" fill="url(#whiteg)" />
<path d="M596.5 1436 L596.5 1447.5 A21 6.5 0 0 0 638.5 1447.5 L638.5 1436 Z" fill="#d9d9d6"/>
<ellipse cx="617.5" cy="1436" rx="21" ry="6.5" fill="#efefed"/>
<ellipse cx="616.5" cy="1434" rx="12" ry="3.8" fill="#dededb"/>
<polygon points="606.5,1420.0 626.5,1420.0 626.5,1434.0 606.5,1434.0" fill="url(#whiteg)" />
<ellipse cx="614.5" cy="1402.5" rx="52.5" ry="19" fill="#e9c62f"/>
<ellipse cx="614.5" cy="1400.5" rx="52.5" ry="19" fill="#e2572c"/>
<ellipse cx="614.5" cy="1397.3" rx="52.5" ry="19" fill="#eed23c"/>
<path d="M578 1393 Q612 1380 642 1384" fill="none" stroke="#e2572c" stroke-width="1.1"/>
<path d="M588 1409 Q625 1413 651 1396" fill="none" stroke="#e2572c" stroke-width="1.1"/>
<path d="M1200 1278 Q1232 1300 1237.5 1332 L1237.5 1343 Q1252 1350 1267.5 1343 L1267.5 1330 Q1272 1282 1300 1252 Z" fill="url(#whiteg)"/>
<path d="M1097 1297 L1105 1312 L1210 1286 L1200 1278 Z" fill="#dcdcda"/>
<ellipse cx="1100" cy="1306" rx="3.5" ry="6" fill="#bdbdbb"/>
<path d="M1372.0 1212.0 L1438.0 1253.0" fill="none" stroke="#b4b4b1" stroke-width="14" stroke-linecap="round" stroke-linejoin="round"/>
<path d="M1372.0 1212.0 L1438.0 1253.0" fill="none" stroke="#e7e7e4" stroke-width="10.9" stroke-linecap="round" stroke-linejoin="round" transform="translate(-0.7,-1.0)"/>
<path d="M1372.0 1212.0 L1438.0 1253.0" fill="none" stroke="#f4f4f2" stroke-width="3.6" stroke-linecap="round" stroke-linejoin="round" transform="translate(-1.7,-2.2)"/>
<path d="M1405.0 1231.0 L1452.0 1226.0" fill="none" stroke="#b4b4b1" stroke-width="12.5" stroke-linecap="round" stroke-linejoin="round"/>
<path d="M1405.0 1231.0 L1452.0 1226.0" fill="none" stroke="#e7e7e4" stroke-width="9.8" stroke-linecap="round" stroke-linejoin="round" transform="translate(-0.6,-0.9)"/>
<path d="M1405.0 1231.0 L1452.0 1226.0" fill="none" stroke="#f4f4f2" stroke-width="3.2" stroke-linecap="round" stroke-linejoin="round" transform="translate(-1.5,-2.0)"/>
<path d="M1070.7 1290.3 Q1066.6 1287.5 1070.3 1284.2 L1079.3 1276.3 Q1083.0 1273.0 1087.7 1271.3 L1291.9 1198.0 Q1296.6 1196.3 1301.6 1196.1 L1331.8 1194.7 Q1336.8 1194.5 1341.1 1197.0 L1374.0 1216.5 Q1378.3 1219.0 1376.2 1223.5 L1374.1 1228.3 Q1372.0 1232.8 1367.2 1234.3 L1308.8 1252.7 Q1304.0 1254.2 1299.1 1255.4 L1096.7 1303.3 Q1091.8 1304.5 1087.7 1301.7 Z" fill="#e2572c"/>
<path d="M1070.7 1286.8 Q1066.6 1284.0 1070.3 1280.7 L1079.3 1272.8 Q1083.0 1269.5 1087.7 1267.8 L1291.9 1194.5 Q1296.6 1192.8 1301.6 1192.6 L1331.8 1191.2 Q1336.8 1191.0 1341.1 1193.5 L1374.0 1213.0 Q1378.3 1215.5 1376.2 1220.0 L1374.1 1224.8 Q1372.0 1229.3 1367.2 1230.8 L1308.8 1249.2 Q1304.0 1250.7 1299.1 1251.9 L1096.7 1299.8 Q1091.8 1301.0 1087.7 1298.2 Z" fill="#e9c932" stroke="#e0a82c" stroke-width="0.8"/>
<path d="M1086.7 1286.5 Q1083.0 1285.0 1085.8 1282.2 L1089.2 1278.8 Q1092.0 1276.0 1095.8 1274.6 L1293.2 1202.4 Q1297.0 1201.0 1301.0 1200.8 L1329.0 1199.2 Q1333.0 1199.0 1336.5 1201.0 L1360.5 1215.0 Q1364.0 1217.0 1362.4 1220.7 L1361.6 1222.3 Q1360.0 1226.0 1356.2 1227.1 L1303.8 1241.9 Q1300.0 1243.0 1296.1 1243.9 L1101.9 1290.1 Q1098.0 1291.0 1094.3 1289.5 Z" fill="none" stroke="#e2572c" stroke-width="1.1"/>
<text transform="translate(1184,1259) rotate(-16.5) skewX(-28)" font-size="14" font-weight="bold" fill="#d8343a" textLength="80" lengthAdjust="spacingAndGlyphs">TaiShan</text>
<path d="M1316.0 1018.0 C1316.5 1021.7 1317.2 1033.3 1319.0 1040.0 C1320.8 1046.7 1325.7 1055.0 1327.0 1058.0 " fill="none" stroke="#b4b4b1" stroke-width="8" stroke-linecap="round" stroke-linejoin="round"/>
<path d="M1316.0 1018.0 C1316.5 1021.7 1317.2 1033.3 1319.0 1040.0 C1320.8 1046.7 1325.7 1055.0 1327.0 1058.0 " fill="none" stroke="#e7e7e4" stroke-width="6.2" stroke-linecap="round" stroke-linejoin="round" transform="translate(-0.4,-0.6)"/>
<path d="M1316.0 1018.0 C1316.5 1021.7 1317.2 1033.3 1319.0 1040.0 C1320.8 1046.7 1325.7 1055.0 1327.0 1058.0 " fill="none" stroke="#f4f4f2" stroke-width="2.1" stroke-linecap="round" stroke-linejoin="round" transform="translate(-1.0,-1.3)"/>
<path d="M1440.0 1018.0 C1440.5 1021.0 1442.5 1033.0 1443.0 1036.0 " fill="none" stroke="#b4b4b1" stroke-width="8" stroke-linecap="round" stroke-linejoin="round"/>
<path d="M1440.0 1018.0 C1440.5 1021.0 1442.5 1033.0 1443.0 1036.0 " fill="none" stroke="#e7e7e4" stroke-width="6.2" stroke-linecap="round" stroke-linejoin="round" transform="translate(-0.4,-0.6)"/>
<path d="M1440.0 1018.0 C1440.5 1021.0 1442.5 1033.0 1443.0 1036.0 " fill="none" stroke="#f4f4f2" stroke-width="2.1" stroke-linecap="round" stroke-linejoin="round" transform="translate(-1.0,-1.3)"/>
<path d="M1281.1 961.0 Q1281.0 957.0 1285.0 956.5 L1438.0 939.0 Q1442.0 938.5 1442.0 942.5 L1442.0 997.0 Q1442.0 1001.0 1438.0 1001.5 L1287.0 1021.5 Q1283.0 1022.0 1282.9 1018.0 Z" fill="#e9c62f" stroke="#e2572c" stroke-width="0" stroke-linejoin="round"/>
<path d="M1287.1 966.0 Q1287.0 963.0 1290.0 962.7 L1435.0 945.8 Q1438.0 945.5 1438.0 948.5 L1438.0 992.0 Q1438.0 995.0 1435.0 995.4 L1292.0 1014.6 Q1289.0 1015.0 1288.9 1012.0 Z" fill="none" stroke="#e2772c" stroke-width="1"/>
<circle cx="1294.0" cy="980.0" r="1.7" fill="none" stroke="#e2772c" stroke-width="0.9"/>
<path d="M1294 982.0 L1292 992.0 L1300 992.0 M1293 987.0 L1299 986.0" fill="none" stroke="#e2772c" stroke-width="0.9"/>
<circle cx="1314.0" cy="977.5" r="1.7" fill="none" stroke="#e2772c" stroke-width="0.9"/>
<path d="M1314 979.5 L1312 989.5 L1320 989.5 M1313 984.5 L1319 983.5" fill="none" stroke="#e2772c" stroke-width="0.9"/>
<circle cx="1334.0" cy="975.0" r="1.7" fill="none" stroke="#e2772c" stroke-width="0.9"/>
<path d="M1334 977.0 L1332 987.0 L1340 987.0 M1333 982.0 L1339 981.0" fill="none" stroke="#e2772c" stroke-width="0.9"/>
<circle cx="1354.0" cy="972.5" r="1.7" fill="none" stroke="#e2772c" stroke-width="0.9"/>
<path d="M1354 974.5 L1352 984.5 L1360 984.5 M1353 979.5 L1359 978.5" fill="none" stroke="#e2772c" stroke-width="0.9"/>
<polygon points="1283.0,1074.0 1300.0,1081.0 1553.0,1049.0 1551.0,1043.0" fill="#cfcfcd" />
<polygon points="1283.0,1074.0 1300.0,1085.0 1312.0,1083.0 1300.0,1076.0" fill="#9a9a98" />
<path d="M1281.4 1063.0 Q1281.0 1060.0 1284.0 1059.7 L1546.0 1030.8 Q1549.0 1030.5 1549.7 1033.4 L1551.3 1040.1 Q1552.0 1043.0 1549.0 1043.4 L1303.0 1076.6 Q1300.0 1077.0 1297.0 1076.5 L1286.0 1074.5 Q1283.0 1074.0 1282.6 1071.0 Z" fill="#e9c62f" stroke="#e2572c" stroke-width="0.8" stroke-linejoin="round"/>
<g transform="rotate(22 1476 972)"><ellipse cx="1476" cy="972" rx="32" ry="46" fill="#e3bf2c" stroke="#e2772c" stroke-width="0.8"/></g>
<g transform="rotate(23 1414 980)"><ellipse cx="1417" cy="981" rx="38" ry="51" fill="#d6b024"/><ellipse cx="1414" cy="980" rx="38" ry="51" fill="#e9c62f" stroke="#e2772c" stroke-width="0.9"/></g>
<ellipse cx="1427" cy="981" rx="14" ry="16" fill="#e3e3e0" transform="rotate(20 1427 981)"/>
<circle cx="1419.0" cy="990.0" r="3.0" fill="#c4c4c1" />
<circle cx="1436.0" cy="972.0" r="3.0" fill="#c4c4c1" />
<path d="M1431.0 988.0 C1432.5 990.7 1437.5 997.0 1440.0 1004.0 C1442.5 1011.0 1445.0 1025.7 1446.0 1030.0 " fill="none" stroke="#b4b4b1" stroke-width="13" stroke-linecap="round" stroke-linejoin="round"/>
<path d="M1431.0 988.0 C1432.5 990.7 1437.5 997.0 1440.0 1004.0 C1442.5 1011.0 1445.0 1025.7 1446.0 1030.0 " fill="none" stroke="#e7e7e4" stroke-width="10.1" stroke-linecap="round" stroke-linejoin="round" transform="translate(-0.7,-0.9)"/>
<path d="M1431.0 988.0 C1432.5 990.7 1437.5 997.0 1440.0 1004.0 C1442.5 1011.0 1445.0 1025.7 1446.0 1030.0 " fill="none" stroke="#f4f4f2" stroke-width="3.4" stroke-linecap="round" stroke-linejoin="round" transform="translate(-1.6,-2.1)"/>
<polygon points="2214.0,1008.0 2470.0,1064.0 2470.0,1088.0 2214.0,1021.5" fill="#3f8be0" />
<polygon points="2280.0,1021.0 2470.0,1061.0 2470.0,1066.0 2280.0,1026.0" fill="#222" />
<text transform="translate(2308,1042) rotate(13)" font-size="8" font-weight="bold" fill="#fff">生命不息</text>
<text transform="translate(2404,1062) rotate(13.5)" font-size="6.5" font-weight="bold" fill="#fff">城市让生活更美好</text>
<text transform="translate(2404,1070) rotate(13.5)" font-size="6.5" font-weight="bold" fill="#fff">体育让城市更精彩</text>
<path d="M2106.0 719.5 L2131.0 717.1 Q2137.0 716.5 2139.9 721.8 L2153.1 746.2 Q2156.0 751.5 2162.0 751.2 L2216.0 748.0" fill="none" stroke="#b4b4b1" stroke-width="6.5" stroke-linecap="round" stroke-linejoin="round"/>
<path d="M2106.0 719.5 L2131.0 717.1 Q2137.0 716.5 2139.9 721.8 L2153.1 746.2 Q2156.0 751.5 2162.0 751.2 L2216.0 748.0" fill="none" stroke="#e7e7e4" stroke-width="5.1" stroke-linecap="round" stroke-linejoin="round" transform="translate(-0.3,-0.5)"/>
<path d="M2106.0 719.5 L2131.0 717.1 Q2137.0 716.5 2139.9 721.8 L2153.1 746.2 Q2156.0 751.5 2162.0 751.2 L2216.0 748.0" fill="none" stroke="#f4f4f2" stroke-width="1.7" stroke-linecap="round" stroke-linejoin="round" transform="translate(-0.8,-1.0)"/>
<polygon points="2209.5,658.0 2226.0,661.0 2226.0,684.0 2209.5,681.0" fill="#dcdcda" />
<polygon points="2232.0,707.0 2250.0,705.0 2250.0,729.0 2232.0,731.0" fill="#dcdcda" />
<path d="M2242 735.5 L2292 735.5 L2292 743 L2280 743 Q2288 750 2288 760 L2288 772 Q2288 782 2279 787 L2290 787 L2290 794.5 L2240 794.5 L2240 787 L2276 787 Q2284 783 2284 772 L2284 758 Q2284 747 2276 743 L2242 743 Z" fill="#c0161d"/>
<polygon points="2287.5,735.0 2326.0,737.5 2322.0,797.0 2287.0,794.0" fill="#c5181f" />
<polygon points="2287.5,735.0 2292.0,735.3 2291.0,794.4 2287.0,794.0" fill="#a3161c" />
<polygon points="2297.5,742.5 2315.5,743.5 2313.5,789.0 2296.0,788.0" fill="#1a1a1a" />
<polygon points="2300.0,749.0 2312.5,749.7 2311.5,775.0 2299.2,774.3" fill="#2b4a3a" />
<polygon points="2301.0,753.0 2311.5,753.5 2311.3,758.0 2300.8,757.5" fill="#b03a3a" />
<polygon points="2300.6,762.0 2311.0,762.5 2310.8,767.0 2300.4,766.5" fill="#3f9a5a" />
<line x1="2232.0" y1="811.0" x2="2487.0" y2="852.0" stroke="#bdbdbb" stroke-width="6.5" stroke-linecap="round"/>
<line x1="2232.0" y1="810.2" x2="2487.0" y2="851.2" stroke="#efefed" stroke-width="4.2" stroke-linecap="round"/>
<line x1="2269.0" y1="816.9" x2="2291.9" y2="820.6" stroke="#151515" stroke-width="7.5" />
<line x1="2316.2" y1="824.5" x2="2341.7" y2="828.6" stroke="#151515" stroke-width="7.5" />
<line x1="2359.5" y1="831.5" x2="2385.0" y2="835.6" stroke="#151515" stroke-width="7.5" />
<line x1="2432.2" y1="843.2" x2="2443.7" y2="845.0" stroke="#151515" stroke-width="7.5" />
<polygon points="2290.0,815.0 2330.0,816.0 2332.0,824.0 2294.0,823.0" fill="#e1e1df" />
<path d="M2280.0 810.3 Q2278.0 808.0 2281.0 807.8 L2323.0 805.7 Q2326.0 805.5 2328.6 807.0 L2334.4 810.5 Q2337.0 812.0 2334.7 814.0 L2332.3 816.0 Q2330.0 818.0 2327.0 818.1 L2291.0 819.4 Q2288.0 819.5 2286.0 817.2 Z" fill="#e9c62f" stroke="#e2572c" stroke-width="0" stroke-linejoin="round"/>
<polygon points="2402.0,841.0 2448.0,842.0 2450.0,850.0 2406.0,849.0" fill="#e1e1df" />
<path d="M2396.1 836.2 Q2394.0 834.0 2397.0 833.8 L2441.0 831.2 Q2444.0 831.0 2446.6 832.4 L2454.4 836.6 Q2457.0 838.0 2454.6 839.8 L2451.4 842.2 Q2449.0 844.0 2446.0 844.1 L2408.0 845.4 Q2405.0 845.5 2402.9 843.3 Z" fill="#e9c62f" stroke="#e2572c" stroke-width="0" stroke-linejoin="round"/>
<polygon points="2150.0,958.0 2206.0,950.0 2206.0,954.0 2155.0,962.0" fill="#cfcfcd" />
<path d="M2095.0 954.3 Q2095.0 951.3 2098.0 950.9 L2170.5 939.9 Q2173.5 939.5 2176.5 939.7 L2202.6 941.8 Q2205.6 942.0 2206.0 945.0 L2206.1 946.6 Q2206.5 949.6 2203.5 950.1 L2156.0 957.5 Q2153.0 958.0 2150.0 958.4 L2098.0 966.1 Q2095.0 966.5 2095.0 963.5 Z" fill="#e9c62f" stroke="#e2572c" stroke-width="0" stroke-linejoin="round"/>
<path d="M2221.0 913.0 C2219.8 915.8 2215.5 922.2 2214.0 930.0 C2212.5 937.8 2211.8 949.2 2212.0 960.0 C2212.2 970.8 2214.5 989.2 2215.0 995.0 " fill="none" stroke="#b4b4b1" stroke-width="8" stroke-linecap="round" stroke-linejoin="round"/>
<path d="M2221.0 913.0 C2219.8 915.8 2215.5 922.2 2214.0 930.0 C2212.5 937.8 2211.8 949.2 2212.0 960.0 C2212.2 970.8 2214.5 989.2 2215.0 995.0 " fill="none" stroke="#e7e7e4" stroke-width="6.2" stroke-linecap="round" stroke-linejoin="round" transform="translate(-0.4,-0.6)"/>
<path d="M2221.0 913.0 C2219.8 915.8 2215.5 922.2 2214.0 930.0 C2212.5 937.8 2211.8 949.2 2212.0 960.0 C2212.2 970.8 2214.5 989.2 2215.0 995.0 " fill="none" stroke="#f4f4f2" stroke-width="2.1" stroke-linecap="round" stroke-linejoin="round" transform="translate(-1.0,-1.3)"/>
<path d="M2191.5 905.2 Q2191.0 903.0 2193.3 902.9 L2248.7 901.6 Q2251.0 901.5 2251.5 903.8 L2251.5 903.8 Q2252.0 906.0 2249.9 906.9 L2238.3 911.6 Q2236.0 912.5 2233.5 912.6 L2218.2 913.2 Q2215.7 913.3 2213.3 912.7 L2194.2 907.9 Q2192.0 907.4 2191.5 905.2 Z" fill="#e9c62f" stroke="#e2572c" stroke-width="0" stroke-linejoin="round"/>
<path d="M2229.0 1028.0 C2227.8 1030.0 2224.0 1035.7 2222.0 1040.0 C2220.0 1044.3 2217.8 1051.7 2217.0 1054.0 " fill="none" stroke="#b4b4b1" stroke-width="8.0" stroke-linecap="round" stroke-linejoin="round"/>
<path d="M2229.0 1028.0 C2227.8 1030.0 2224.0 1035.7 2222.0 1040.0 C2220.0 1044.3 2217.8 1051.7 2217.0 1054.0 " fill="none" stroke="#e7e7e4" stroke-width="6.2" stroke-linecap="round" stroke-linejoin="round" transform="translate(-0.4,-0.6)"/>
<path d="M2229.0 1028.0 C2227.8 1030.0 2224.0 1035.7 2222.0 1040.0 C2220.0 1044.3 2217.8 1051.7 2217.0 1054.0 " fill="none" stroke="#f4f4f2" stroke-width="2.1" stroke-linecap="round" stroke-linejoin="round" transform="translate(-1.0,-1.3)"/>
<path d="M2262.0 1040.0 C2264.7 1040.0 2273.0 1040.7 2278.0 1040.0 C2283.0 1039.3 2289.7 1036.7 2292.0 1036.0 " fill="none" stroke="#b4b4b1" stroke-width="7.0" stroke-linecap="round" stroke-linejoin="round"/>
<path d="M2262.0 1040.0 C2264.7 1040.0 2273.0 1040.7 2278.0 1040.0 C2283.0 1039.3 2289.7 1036.7 2292.0 1036.0 " fill="none" stroke="#e7e7e4" stroke-width="5.5" stroke-linecap="round" stroke-linejoin="round" transform="translate(-0.4,-0.5)"/>
<path d="M2262.0 1040.0 C2264.7 1040.0 2273.0 1040.7 2278.0 1040.0 C2283.0 1039.3 2289.7 1036.7 2292.0 1036.0 " fill="none" stroke="#f4f4f2" stroke-width="1.8" stroke-linecap="round" stroke-linejoin="round" transform="translate(-0.8,-1.1)"/>
<path d="M2207.0 991.0 C2207.8 985.6 2215.3 978.3 2221.0 970.7 C2226.7 963.1 2234.7 950.9 2241.0 945.6 C2247.3 940.3 2251.5 939.0 2258.6 939.0 C2265.7 939.0 2277.3 940.8 2283.8 945.6 C2290.3 950.4 2295.7 959.6 2297.6 968.0 C2299.5 976.4 2299.0 985.4 2295.0 995.9 C2291.0 1006.4 2278.9 1023.9 2273.7 1031.0 C2268.5 1038.1 2269.1 1038.6 2263.7 1038.6 C2258.2 1038.6 2248.9 1036.9 2241.0 1031.0 C2233.1 1025.1 2221.7 1009.7 2216.0 1003.0 C2210.3 996.3 2206.2 996.4 2207.0 991.0 Z" fill="#dcdcd9"/>
<path d="M2207.0 991.0 C2207.7 986.7 2216.5 976.8 2221.0 970.7 C2225.5 964.6 2236.0 949.8 2241.0 945.6 C2246.0 941.4 2255.8 938.4 2258.6 939.0 C2261.4 939.6 2265.7 943.2 2262.0 950.0 C2258.3 956.8 2230.7 978.4 2231.0 990.0 C2231.3 1001.6 2262.7 1031.5 2264.0 1037.0 C2265.3 1042.5 2247.4 1035.5 2241.0 1031.0 C2234.6 1026.5 2220.5 1008.3 2216.0 1003.0 C2211.5 997.7 2206.3 995.3 2207.0 991.0 Z" fill="#c4c4c1" opacity="0.6"/>
<path d="M2229.7 990.8 L2247.0 966.0 Q2261.0 951.5 2275.0 947.5 Q2288.0 953.0 2297.0 970.7 Q2297.0 995.9 2283.0 1016.0 L2266.0 1036.0 Z" fill="#26262a"/>
<path d="M2248.5 995.2 L2257.1 973.6 A19.2 19.2 0 0 1 2290.7 984.4 L2282.8 1006.0" fill="none" stroke="#f2f2f2" stroke-width="1.6" transform="rotate(8 2272.0 982.0)"/>
<path d="M2253.9 992.2 L2260.5 975.5 A14.8 14.8 0 0 1 2286.4 983.9 L2280.3 1000.5" fill="none" stroke="#f2f2f2" stroke-width="1.6" transform="rotate(8 2272.0 982.0)"/>
<path d="M2259.3 989.1 L2263.9 977.5 A10.4 10.4 0 0 1 2282.1 983.3 L2277.8 995.0" fill="none" stroke="#f2f2f2" stroke-width="1.6" transform="rotate(8 2272.0 982.0)"/>
<line x1="2277.0" y1="980.0" x2="2262.0" y2="1000.0" stroke="#e9e9e7" stroke-width="5.0" stroke-linecap="round"/>
<polygon points="2257.0,995.0 2266.0,992.0 2270.0,1006.0 2261.0,1010.0" fill="#0e0e0e" />
<text transform="translate(2243.0,1001.0) rotate(53)" font-size="9.5" font-weight="bold" fill="#e9e9e9" textLength="33.0" lengthAdjust="spacingAndGlyphs">TaiShan</text>
<path d="M2334.0 938.0 C2332.5 940.3 2327.2 944.2 2325.0 952.0 C2322.8 959.8 2321.7 974.0 2321.0 985.0 C2320.3 996.0 2321.0 1012.5 2321.0 1018.0 " fill="none" stroke="#b4b4b1" stroke-width="8.5" stroke-linecap="round" stroke-linejoin="round"/>
<path d="M2334.0 938.0 C2332.5 940.3 2327.2 944.2 2325.0 952.0 C2322.8 959.8 2321.7 974.0 2321.0 985.0 C2320.3 996.0 2321.0 1012.5 2321.0 1018.0 " fill="none" stroke="#e7e7e4" stroke-width="6.6" stroke-linecap="round" stroke-linejoin="round" transform="translate(-0.4,-0.6)"/>
<path d="M2334.0 938.0 C2332.5 940.3 2327.2 944.2 2325.0 952.0 C2322.8 959.8 2321.7 974.0 2321.0 985.0 C2320.3 996.0 2321.0 1012.5 2321.0 1018.0 " fill="none" stroke="#f4f4f2" stroke-width="2.2" stroke-linecap="round" stroke-linejoin="round" transform="translate(-1.0,-1.4)"/>
<path d="M2300.7 929.4 Q2300.0 927.0 2302.5 926.9 L2359.0 925.6 Q2361.5 925.5 2361.7 928.0 L2361.8 928.0 Q2362.0 930.5 2359.8 931.6 L2351.2 935.9 Q2349.0 937.0 2346.5 937.2 L2334.0 938.0 Q2331.5 938.2 2329.1 937.7 L2303.9 932.5 Q2301.5 932.0 2300.8 929.6 Z" fill="#4a4a4a"/>
<path d="M2335.5 1058.1 C2334.2 1060.3 2329.9 1066.6 2327.7 1071.5 C2325.5 1076.4 2323.0 1084.6 2322.1 1087.2 " fill="none" stroke="#b4b4b1" stroke-width="8.96" stroke-linecap="round" stroke-linejoin="round"/>
<path d="M2335.5 1058.1 C2334.2 1060.3 2329.9 1066.6 2327.7 1071.5 C2325.5 1076.4 2323.0 1084.6 2322.1 1087.2 " fill="none" stroke="#e7e7e4" stroke-width="7.0" stroke-linecap="round" stroke-linejoin="round" transform="translate(-0.4,-0.6)"/>
<path d="M2335.5 1058.1 C2334.2 1060.3 2329.9 1066.6 2327.7 1071.5 C2325.5 1076.4 2323.0 1084.6 2322.1 1087.2 " fill="none" stroke="#f4f4f2" stroke-width="2.3" stroke-linecap="round" stroke-linejoin="round" transform="translate(-1.1,-1.4)"/>
<path d="M2372.5 1071.5 C2375.5 1071.5 2384.8 1072.2 2390.4 1071.5 C2396.0 1070.8 2403.5 1067.8 2406.1 1067.0 " fill="none" stroke="#b4b4b1" stroke-width="7.840000000000001" stroke-linecap="round" stroke-linejoin="round"/>
<path d="M2372.5 1071.5 C2375.5 1071.5 2384.8 1072.2 2390.4 1071.5 C2396.0 1070.8 2403.5 1067.8 2406.1 1067.0 " fill="none" stroke="#e7e7e4" stroke-width="6.1" stroke-linecap="round" stroke-linejoin="round" transform="translate(-0.4,-0.5)"/>
<path d="M2372.5 1071.5 C2375.5 1071.5 2384.8 1072.2 2390.4 1071.5 C2396.0 1070.8 2403.5 1067.8 2406.1 1067.0 " fill="none" stroke="#f4f4f2" stroke-width="2.0" stroke-linecap="round" stroke-linejoin="round" transform="translate(-0.9,-1.3)"/>
<path d="M2310.9 1016.6 C2311.8 1010.6 2320.2 1002.4 2326.6 993.9 C2332.9 985.4 2342.0 971.7 2349.0 965.8 C2356.0 959.9 2360.7 958.4 2368.7 958.4 C2376.7 958.4 2389.6 960.4 2396.9 965.8 C2404.2 971.2 2410.3 981.5 2412.4 990.9 C2414.5 1000.2 2413.9 1010.3 2409.5 1022.1 C2405.0 1033.9 2391.4 1053.4 2385.6 1061.4 C2379.8 1069.4 2380.5 1069.9 2374.4 1069.9 C2368.3 1069.9 2357.9 1068.1 2349.0 1061.4 C2340.1 1054.8 2327.3 1037.5 2321.0 1030.1 C2314.6 1022.6 2310.0 1022.6 2310.9 1016.6 Z" fill="#dcdcd9"/>
<path d="M2310.9 1016.6 C2311.6 1011.8 2321.5 1000.7 2326.6 993.9 C2331.7 987.1 2343.4 970.5 2349.0 965.8 C2354.6 961.0 2365.6 957.7 2368.7 958.4 C2371.8 959.0 2376.6 963.1 2372.5 970.7 C2368.4 978.3 2337.5 1002.5 2337.8 1015.5 C2338.1 1028.5 2373.2 1062.0 2374.7 1068.1 C2376.2 1074.3 2356.1 1066.5 2349.0 1061.4 C2341.8 1056.3 2326.1 1036.0 2321.0 1030.1 C2315.9 1024.1 2310.2 1021.4 2310.9 1016.6 Z" fill="#c4c4c1" opacity="0.6"/>
<path d="M2336.3 1016.4 L2355.7 988.6 Q2371.4 972.4 2387.1 967.9 Q2401.6 974.1 2411.7 993.9 Q2411.5 1022.1 2396.0 1044.6 L2377.0 1067.0 Z" fill="#26262a"/>
<path d="M2357.4 1021.3 L2367.0 997.1 A21.5 21.5 0 0 1 2404.7 1009.2 L2395.8 1033.4" fill="none" stroke="#f2f2f2" stroke-width="1.8" transform="rotate(8 2383.7 1006.5)"/>
<path d="M2363.4 1017.9 L2370.9 999.3 A16.6 16.6 0 0 1 2399.9 1008.6 L2393.0 1027.3" fill="none" stroke="#f2f2f2" stroke-width="1.8" transform="rotate(8 2383.7 1006.5)"/>
<path d="M2369.4 1014.5 L2374.7 1001.4 A11.6 11.6 0 0 1 2395.1 1008.0 L2390.3 1021.1" fill="none" stroke="#f2f2f2" stroke-width="1.8" transform="rotate(8 2383.7 1006.5)"/>
<line x1="2389.3" y1="1004.3" x2="2372.5" y2="1026.7" stroke="#e9e9e7" stroke-width="5.6000000000000005" stroke-linecap="round"/>
<polygon points="2366.9,1021.1 2377.0,1017.7 2381.5,1033.4 2371.4,1037.9" fill="#0e0e0e" />
<text transform="translate(2351.2,1027.8) rotate(53)" font-size="10.6" font-weight="bold" fill="#e9e9e9" textLength="37.0" lengthAdjust="spacingAndGlyphs">TaiShan</text>
<path d="M2038.6 1078.2 Q2037.0 1077.0 2038.0 1075.3 L2047.5 1058.7 Q2048.5 1057.0 2048.5 1059.0 L2049.0 1084.0 Q2049.0 1086.0 2047.4 1084.8 Z" fill="#e9c62f" stroke="#e2572c" stroke-width="0" stroke-linejoin="round"/>
<path d="M2097.6 1042.7 Q2099.0 1040.0 2101.9 1040.9 L2118.1 1045.8 Q2121.0 1046.7 2119.4 1049.2 L2093.3 1090.4 Q2092.0 1092.5 2089.5 1092.8 L2089.5 1092.8 Q2087.0 1093.0 2086.9 1090.5 L2086.1 1068.0 Q2086.0 1065.0 2087.4 1062.3 Z" fill="#e9c62f" stroke="#e2572c" stroke-width="1.0" stroke-linejoin="round"/>
<circle cx="2106.0" cy="1073.0" r="2.5" fill="#e9e9e7" />
<path d="M2053.0 968.0 C2052.5 975.0 2051.8 996.0 2050.0 1010.0 C2048.2 1024.0 2045.7 1040.3 2042.0 1052.0 C2038.3 1063.7 2030.3 1075.3 2028.0 1080.0 " fill="none" stroke="#b4b4b1" stroke-width="8" stroke-linecap="round" stroke-linejoin="round"/>
<path d="M2053.0 968.0 C2052.5 975.0 2051.8 996.0 2050.0 1010.0 C2048.2 1024.0 2045.7 1040.3 2042.0 1052.0 C2038.3 1063.7 2030.3 1075.3 2028.0 1080.0 " fill="none" stroke="#e2e2df" stroke-width="6.2" stroke-linecap="round" stroke-linejoin="round" transform="translate(-0.4,-0.6)"/>
<path d="M2053.0 968.0 C2052.5 975.0 2051.8 996.0 2050.0 1010.0 C2048.2 1024.0 2045.7 1040.3 2042.0 1052.0 C2038.3 1063.7 2030.3 1075.3 2028.0 1080.0 " fill="none" stroke="#f4f4f2" stroke-width="2.1" stroke-linecap="round" stroke-linejoin="round" transform="translate(-1.0,-1.3)"/>
<path d="M2040.0 885.0 L2038.3 950.0 Q2038.0 960.0 2037.8 970.0 L2036.2 1030.0 Q2036.0 1040.0 2033.8 1049.7 L2032.2 1056.3 Q2030.0 1066.0 2023.4 1073.5 L2022.6 1074.5 Q2016.0 1082.0 2006.0 1082.4 L2000.0 1082.6 Q1990.0 1083.0 1980.1 1081.5 L1964.0 1079.0" fill="none" stroke="#b4b4b1" stroke-width="13" stroke-linecap="round" stroke-linejoin="round"/>
<path d="M2040.0 885.0 L2038.3 950.0 Q2038.0 960.0 2037.8 970.0 L2036.2 1030.0 Q2036.0 1040.0 2033.8 1049.7 L2032.2 1056.3 Q2030.0 1066.0 2023.4 1073.5 L2022.6 1074.5 Q2016.0 1082.0 2006.0 1082.4 L2000.0 1082.6 Q1990.0 1083.0 1980.1 1081.5 L1964.0 1079.0" fill="none" stroke="#e7e7e4" stroke-width="10.1" stroke-linecap="round" stroke-linejoin="round" transform="translate(-0.7,-0.9)"/>
<path d="M2040.0 885.0 L2038.3 950.0 Q2038.0 960.0 2037.8 970.0 L2036.2 1030.0 Q2036.0 1040.0 2033.8 1049.7 L2032.2 1056.3 Q2030.0 1066.0 2023.4 1073.5 L2022.6 1074.5 Q2016.0 1082.0 2006.0 1082.4 L2000.0 1082.6 Q1990.0 1083.0 1980.1 1081.5 L1964.0 1079.0" fill="none" stroke="#f4f4f2" stroke-width="3.4" stroke-linecap="round" stroke-linejoin="round" transform="translate(-1.6,-2.1)"/>
<ellipse cx="2037" cy="881" rx="10" ry="11.5" fill="#d9d9d6"/>
<ellipse cx="2049" cy="884" rx="8.5" ry="12" fill="#efefec" stroke="#8a8a88" stroke-width="0.8"/>
<path d="M2033.0 941.0 L2055.0 944.5" fill="none" stroke="#b4b4b1" stroke-width="5.5" stroke-linecap="round" stroke-linejoin="round"/>
<path d="M2033.0 941.0 L2055.0 944.5" fill="none" stroke="#e7e7e4" stroke-width="4.3" stroke-linecap="round" stroke-linejoin="round" transform="translate(-0.3,-0.4)"/>
<path d="M2033.0 941.0 L2055.0 944.5" fill="none" stroke="#f4f4f2" stroke-width="1.4" stroke-linecap="round" stroke-linejoin="round" transform="translate(-0.7,-0.9)"/>
<circle cx="2031.0" cy="940.5" r="4.0" fill="#e6e6e3" />
<path d="M1939.6 940.5 Q1938.0 938.0 1940.8 937.1 L1941.2 936.9 Q1944.0 936.0 1946.4 937.7 L1953.6 942.8 Q1956.0 944.5 1957.1 947.3 L1973.4 989.2 Q1974.5 992.0 1974.3 995.0 L1973.2 1015.5 Q1973.0 1018.5 1970.0 1018.7 L1969.0 1018.8 Q1966.0 1019.0 1965.3 1016.1 L1952.7 962.9 Q1952.0 960.0 1950.4 957.5 Z" fill="#d9ad22" stroke="#e2572c" stroke-width="0.6" stroke-linejoin="round"/>
<polygon points="1932.0,948.0 1941.0,943.0 1952.0,946.0 1975.0,1078.0 1956.0,1084.0" fill="#cfcfcc" />
<polygon points="1941.0,943.0 1952.0,946.0 1975.0,1078.0 1965.0,1080.0" fill="#ecece9" />
<path d="M1950.0 967.0 C1954.2 968.3 1965.0 973.2 1975.0 975.0 C1985.0 976.8 2000.5 978.0 2010.0 978.0 C2019.5 978.0 2028.3 975.5 2032.0 975.0 " fill="none" stroke="#b4b4b1" stroke-width="10" stroke-linecap="round" stroke-linejoin="round"/>
<path d="M1950.0 967.0 C1954.2 968.3 1965.0 973.2 1975.0 975.0 C1985.0 976.8 2000.5 978.0 2010.0 978.0 C2019.5 978.0 2028.3 975.5 2032.0 975.0 " fill="none" stroke="#e7e7e4" stroke-width="7.8" stroke-linecap="round" stroke-linejoin="round" transform="translate(-0.5,-0.7)"/>
<path d="M1950.0 967.0 C1954.2 968.3 1965.0 973.2 1975.0 975.0 C1985.0 976.8 2000.5 978.0 2010.0 978.0 C2019.5 978.0 2028.3 975.5 2032.0 975.0 " fill="none" stroke="#f4f4f2" stroke-width="2.6" stroke-linecap="round" stroke-linejoin="round" transform="translate(-1.2,-1.6)"/>
<path d="M1969.7 1059.4 Q1969.0 1055.5 1973.0 1055.0 L1986.0 1053.5 Q1990.0 1053.0 1994.0 1053.4 L2021.3 1056.1 Q2025.0 1056.5 2025.0 1060.2 L2025.0 1060.2 Q2025.0 1064.0 2021.3 1064.7 L1998.9 1068.8 Q1995.0 1069.5 1991.0 1068.9 L1975.0 1066.6 Q1971.0 1066.0 1970.3 1062.1 Z" fill="#e9c62f" stroke="#e2572c" stroke-width="0.6" stroke-linejoin="round"/>
<polygon points="1957.0,1070.0 1975.0,1066.0 1997.0,1074.0 2008.0,1075.0 2008.0,1080.0 1960.0,1083.0" fill="#dededb" />
<path d="M1490.0 1157.0 L1533.0 1164.0" fill="none" stroke="#b4b4b1" stroke-width="12" stroke-linecap="round" stroke-linejoin="round"/>
<path d="M1490.0 1157.0 L1533.0 1164.0" fill="none" stroke="#e7e7e4" stroke-width="9.4" stroke-linecap="round" stroke-linejoin="round" transform="translate(-0.6,-0.8)"/>
<path d="M1490.0 1157.0 L1533.0 1164.0" fill="none" stroke="#f4f4f2" stroke-width="3.1" stroke-linecap="round" stroke-linejoin="round" transform="translate(-1.4,-1.9)"/>
<path d="M1701.0 1151.0 L1696.0 1172.0" fill="none" stroke="#b4b4b1" stroke-width="9" stroke-linecap="round" stroke-linejoin="round"/>
<path d="M1701.0 1151.0 L1696.0 1172.0" fill="none" stroke="#e7e7e4" stroke-width="7.0" stroke-linecap="round" stroke-linejoin="round" transform="translate(-0.5,-0.6)"/>
<path d="M1701.0 1151.0 L1696.0 1172.0" fill="none" stroke="#f4f4f2" stroke-width="2.3" stroke-linecap="round" stroke-linejoin="round" transform="translate(-1.1,-1.4)"/>
<path d="M1746.0 1121.0 L1722.0 1178.0" fill="none" stroke="#b4b4b1" stroke-width="10" stroke-linecap="round" stroke-linejoin="round"/>
<path d="M1746.0 1121.0 L1722.0 1178.0" fill="none" stroke="#e7e7e4" stroke-width="7.8" stroke-linecap="round" stroke-linejoin="round" transform="translate(-0.5,-0.7)"/>
<path d="M1746.0 1121.0 L1722.0 1178.0" fill="none" stroke="#f4f4f2" stroke-width="2.6" stroke-linecap="round" stroke-linejoin="round" transform="translate(-1.2,-1.6)"/>
<path d="M1603.0 1168.0 L1682.1 1179.8 Q1690.0 1181.0 1697.8 1182.8 L1746.0 1194.0" fill="none" stroke="#b4b4b1" stroke-width="12" stroke-linecap="round" stroke-linejoin="round"/>
<path d="M1603.0 1168.0 L1682.1 1179.8 Q1690.0 1181.0 1697.8 1182.8 L1746.0 1194.0" fill="none" stroke="#e7e7e4" stroke-width="9.4" stroke-linecap="round" stroke-linejoin="round" transform="translate(-0.6,-0.8)"/>
<path d="M1603.0 1168.0 L1682.1 1179.8 Q1690.0 1181.0 1697.8 1182.8 L1746.0 1194.0" fill="none" stroke="#f4f4f2" stroke-width="3.1" stroke-linecap="round" stroke-linejoin="round" transform="translate(-1.4,-1.9)"/>
<path d="M1744.0 1182.0 C1746.7 1183.7 1756.0 1187.3 1760.0 1192.0 C1764.0 1196.7 1766.7 1203.5 1768.0 1210.0 C1769.3 1216.5 1768.0 1227.5 1768.0 1231.0 " fill="none" stroke="#b4b4b1" stroke-width="11.5" stroke-linecap="round" stroke-linejoin="round"/>
<path d="M1744.0 1182.0 C1746.7 1183.7 1756.0 1187.3 1760.0 1192.0 C1764.0 1196.7 1766.7 1203.5 1768.0 1210.0 C1769.3 1216.5 1768.0 1227.5 1768.0 1231.0 " fill="none" stroke="#e7e7e4" stroke-width="9.0" stroke-linecap="round" stroke-linejoin="round" transform="translate(-0.6,-0.8)"/>
<path d="M1744.0 1182.0 C1746.7 1183.7 1756.0 1187.3 1760.0 1192.0 C1764.0 1196.7 1766.7 1203.5 1768.0 1210.0 C1769.3 1216.5 1768.0 1227.5 1768.0 1231.0 " fill="none" stroke="#f4f4f2" stroke-width="3.0" stroke-linecap="round" stroke-linejoin="round" transform="translate(-1.4,-1.8)"/>
<path d="M1631.0 1104.0 C1634.2 1109.7 1643.8 1128.7 1650.0 1138.0 C1656.2 1147.3 1661.7 1154.8 1668.0 1160.0 C1674.3 1165.2 1684.7 1167.5 1688.0 1169.0 " fill="none" stroke="#b4b4b1" stroke-width="7.5" stroke-linecap="round" stroke-linejoin="round"/>
<path d="M1631.0 1104.0 C1634.2 1109.7 1643.8 1128.7 1650.0 1138.0 C1656.2 1147.3 1661.7 1154.8 1668.0 1160.0 C1674.3 1165.2 1684.7 1167.5 1688.0 1169.0 " fill="none" stroke="#e7e7e4" stroke-width="5.9" stroke-linecap="round" stroke-linejoin="round" transform="translate(-0.4,-0.5)"/>
<path d="M1631.0 1104.0 C1634.2 1109.7 1643.8 1128.7 1650.0 1138.0 C1656.2 1147.3 1661.7 1154.8 1668.0 1160.0 C1674.3 1165.2 1684.7 1167.5 1688.0 1169.0 " fill="none" stroke="#f4f4f2" stroke-width="2.0" stroke-linecap="round" stroke-linejoin="round" transform="translate(-0.9,-1.2)"/>
<circle cx="1631.0" cy="1103.5" r="6.2" fill="#ecece9" />
<path d="M1658.4 1137.6 Q1656.0 1136.7 1658.5 1136.5 L1696.2 1134.2 Q1698.7 1134.0 1701.0 1135.0 L1734.1 1149.6 Q1736.4 1150.6 1733.9 1150.8 L1703.5 1152.8 Q1701.0 1153.0 1698.6 1152.1 Z" fill="#e9c62f" stroke="#e2572c" stroke-width="1.0" stroke-linejoin="round"/>
<path d="M1719.0 1139.0 C1721.3 1143.3 1728.7 1157.2 1733.0 1165.0 C1737.3 1172.8 1743.0 1182.5 1745.0 1186.0 " fill="none" stroke="#b4b4b1" stroke-width="7.5" stroke-linecap="round" stroke-linejoin="round"/>
<path d="M1719.0 1139.0 C1721.3 1143.3 1728.7 1157.2 1733.0 1165.0 C1737.3 1172.8 1743.0 1182.5 1745.0 1186.0 " fill="none" stroke="#e7e7e4" stroke-width="5.9" stroke-linecap="round" stroke-linejoin="round" transform="translate(-0.4,-0.5)"/>
<path d="M1719.0 1139.0 C1721.3 1143.3 1728.7 1157.2 1733.0 1165.0 C1737.3 1172.8 1743.0 1182.5 1745.0 1186.0 " fill="none" stroke="#f4f4f2" stroke-width="2.0" stroke-linecap="round" stroke-linejoin="round" transform="translate(-0.9,-1.2)"/>
<circle cx="1719.0" cy="1138.5" r="6.5" fill="#ecece9" />
<path d="M1736.3 1112.3 Q1734.0 1109.0 1735.0 1105.1 L1739.0 1088.9 Q1740.0 1085.0 1741.6 1081.3 L1749.9 1062.7 Q1751.5 1059.0 1754.2 1056.1 L1776.3 1031.9 Q1779.0 1029.0 1783.0 1029.0 L1784.0 1029.0 Q1788.0 1029.0 1790.6 1032.0 L1791.4 1033.0 Q1794.0 1036.0 1793.4 1039.9 L1789.6 1062.6 Q1789.0 1066.5 1787.0 1070.0 L1761.0 1115.5 Q1759.0 1119.0 1755.0 1118.4 L1743.0 1116.6 Q1739.0 1116.0 1736.7 1112.7 Z" fill="#e9c62f" stroke="#e2572c" stroke-width="1.0" stroke-linejoin="round"/>
<path d="M1744.9 1108.7 Q1741.0 1108.0 1742.3 1104.2 L1754.7 1067.8 Q1756.0 1064.0 1758.7 1061.0 L1777.5 1039.8 Q1780.0 1037.0 1783.5 1038.5 L1783.5 1038.5 Q1787.0 1040.0 1786.4 1043.8 L1783.6 1061.1 Q1783.0 1065.0 1781.0 1068.5 L1759.0 1107.5 Q1757.0 1111.0 1753.1 1110.3 Z" fill="none" stroke="#e2572c" stroke-width="0.9"/>
<polygon points="1565.5,1205.0 1580.5,1205.0 1580.5,1265.0 1565.5,1265.0" fill="url(#whiteg)" />
<ellipse cx="1573" cy="1265" rx="7.5" ry="3" fill="#d6d6d3"/>
<path d="M1517.7 1128.2 Q1517.7 1125.4 1520.5 1125.3 L1571.8 1123.2 Q1576.8 1123.0 1580.8 1125.9 L1586.6 1130.1 Q1590.6 1133.0 1592.0 1137.8 L1609.3 1198.2 Q1610.7 1203.0 1607.2 1206.6 L1606.5 1207.4 Q1603.0 1211.0 1598.1 1210.1 L1551.5 1201.9 Q1546.6 1201.0 1544.7 1196.4 L1518.8 1133.6 Q1517.7 1131.0 1517.7 1128.2 Z" fill="#e4e4e1"/>
<path d="M1532.5 1135.9 Q1531.5 1132.0 1535.5 1132.2 L1586.0 1134.8 Q1590.0 1135.0 1591.2 1138.8 L1609.3 1199.2 Q1610.5 1203.0 1607.9 1206.0 L1607.1 1207.0 Q1604.5 1210.0 1600.6 1209.1 L1552.9 1198.4 Q1549.0 1197.5 1548.0 1193.6 Z" fill="#ecd33a"/>
<circle cx="1571.0" cy="1166.0" r="7.5" fill="#e9e9e6" stroke="#8f8f8d" stroke-width="1"/>
<circle cx="1571.0" cy="1166.0" r="3.5" fill="#cfcfcc" />
<path d="M1572.0 1167.0 L1582.5 1174.3 Q1585.0 1176.0 1582.7 1177.9 L1560.0 1196.0" fill="none" stroke="#b4b4b1" stroke-width="6.5" stroke-linecap="round" stroke-linejoin="round"/>
<path d="M1572.0 1167.0 L1582.5 1174.3 Q1585.0 1176.0 1582.7 1177.9 L1560.0 1196.0" fill="none" stroke="#e7e7e4" stroke-width="5.1" stroke-linecap="round" stroke-linejoin="round" transform="translate(-0.3,-0.5)"/>
<path d="M1572.0 1167.0 L1582.5 1174.3 Q1585.0 1176.0 1582.7 1177.9 L1560.0 1196.0" fill="none" stroke="#f4f4f2" stroke-width="1.7" stroke-linecap="round" stroke-linejoin="round" transform="translate(-0.8,-1.0)"/>
<polygon points="1553.0,1190.0 1562.0,1194.0 1566.0,1212.0 1556.0,1208.0" fill="#1a1a1a" />
<path d="M1564.0 1203.0 L1567.0 1212.0" fill="none" stroke="#b4b4b1" stroke-width="5" stroke-linecap="round" stroke-linejoin="round"/>
<path d="M1564.0 1203.0 L1567.0 1212.0" fill="none" stroke="#e7e7e4" stroke-width="3.9" stroke-linecap="round" stroke-linejoin="round" transform="translate(-0.2,-0.4)"/>
<path d="M1564.0 1203.0 L1567.0 1212.0" fill="none" stroke="#f4f4f2" stroke-width="1.3" stroke-linecap="round" stroke-linejoin="round" transform="translate(-0.6,-0.8)"/>
<polygon points="681.0,556.0 698.0,556.0 744.0,1428.0 735.0,1428.0" fill="#ab1a22" />
<polygon points="698.0,556.0 733.0,556.0 780.5,1428.0 744.0,1428.0" fill="#a96a4c" />
<polygon points="698.0,556.0 701.5,556.0 747.6,1428.0 744.0,1428.0" fill="#97583c" />
<polygon points="703.6,556.0 709.5,556.0 756.0,1428.0 749.8,1428.0" fill="#f4f1ea" />
<polygon points="709.5,556.0 711.0,556.0 757.5,1428.0 756.0,1428.0" fill="#97583c" />
<polygon points="722.9,556.0 729.1,556.0 776.5,1428.0 769.9,1428.0" fill="#f4f1ea" />
<polygon points="729.1,556.0 730.2,556.0 777.6,1428.0 776.5,1428.0" fill="#97583c" />
<polygon points="731.2,556.0 733.0,556.0 780.5,1428.0 778.7,1428.0" fill="#97583c" />
<polygon points="735.0,1415.0 727.0,1425.0 737.0,1430.0" fill="#a81a21" />
<polygon points="780.5,1415.0 788.5,1423.0 778.5,1429.0" fill="#a81a21" />
<polygon points="1448.0,538.0 1465.0,538.0 1465.0,1291.0 1450.0,1291.0" fill="#ab1a22" />
<polygon points="1465.0,538.0 1491.0,538.0 1491.5,1291.0 1465.0,1291.0" fill="#a96a4c" />
<polygon points="1465.0,538.0 1467.6,538.0 1467.7,1291.0 1465.0,1291.0" fill="#97583c" />
<polygon points="1469.2,538.0 1473.6,538.0 1473.7,1291.0 1469.2,1291.0" fill="#f4f1ea" />
<polygon points="1473.6,538.0 1474.6,538.0 1474.8,1291.0 1473.7,1291.0" fill="#97583c" />
<polygon points="1483.5,538.0 1488.1,538.0 1488.6,1291.0 1483.8,1291.0" fill="#f4f1ea" />
<polygon points="1488.1,538.0 1488.9,538.0 1489.4,1291.0 1488.6,1291.0" fill="#97583c" />
<polygon points="1489.7,538.0 1491.0,538.0 1491.5,1291.0 1490.2,1291.0" fill="#97583c" />
<polygon points="1450.0,1278.0 1442.0,1288.0 1452.0,1293.0" fill="#a81a21" />
<polygon points="1491.5,1278.0 1499.5,1286.0 1489.5,1292.0" fill="#a81a21" />
<polygon points="2072.0,520.0 2093.0,520.0 2066.0,1174.0 2046.0,1174.0" fill="#ab1a22" />
<polygon points="2093.0,520.0 2115.0,520.0 2085.0,1174.0 2066.0,1174.0" fill="#a96a4c" />
<polygon points="2093.0,520.0 2095.2,520.0 2067.9,1174.0 2066.0,1174.0" fill="#97583c" />
<polygon points="2096.5,520.0 2100.3,520.0 2072.3,1174.0 2069.0,1174.0" fill="#f4f1ea" />
<polygon points="2100.3,520.0 2101.1,520.0 2073.0,1174.0 2072.3,1174.0" fill="#97583c" />
<polygon points="2108.6,520.0 2112.6,520.0 2082.9,1174.0 2079.5,1174.0" fill="#f4f1ea" />
<polygon points="2112.6,520.0 2113.2,520.0 2083.5,1174.0 2082.9,1174.0" fill="#97583c" />
<polygon points="2113.9,520.0 2115.0,520.0 2085.0,1174.0 2084.1,1174.0" fill="#97583c" />
<polygon points="2046.0,1161.0 2041.0,1171.0 2048.0,1176.0" fill="#a81a21" />
<polygon points="2085.0,1161.0 2090.0,1169.0 2083.0,1175.0" fill="#a81a21" />
<polygon points="2512.0,508.0 2538.0,508.0 2491.0,1091.0 2470.0,1091.0" fill="#ab1a22" />
<polygon points="2538.0,508.0 2552.0,508.0 2506.0,1091.0 2491.0,1091.0" fill="#a96a4c" />
<polygon points="2538.0,508.0 2539.4,508.0 2492.5,1091.0 2491.0,1091.0" fill="#97583c" />
<polygon points="2540.2,508.0 2542.6,508.0 2495.9,1091.0 2493.4,1091.0" fill="#f4f1ea" />
<polygon points="2542.6,508.0 2543.2,508.0 2496.6,1091.0 2495.9,1091.0" fill="#97583c" />
<polygon points="2547.9,508.0 2550.5,508.0 2504.3,1091.0 2501.7,1091.0" fill="#f4f1ea" />
<polygon points="2550.5,508.0 2550.9,508.0 2504.8,1091.0 2504.3,1091.0" fill="#97583c" />
<polygon points="2551.3,508.0 2552.0,508.0 2506.0,1091.0 2505.2,1091.0" fill="#97583c" />
<polygon points="2470.0,1078.0 2465.0,1088.0 2472.0,1093.0" fill="#a81a21" />
<polygon points="2506.0,1078.0 2511.0,1086.0 2504.0,1092.0" fill="#a81a21" />
<polygon points="1450.0,1208.0 1462.0,1212.0 1463.0,1247.0 1451.0,1243.0" fill="#dadad7" />
<polygon points="1440.5,919.0 1456.0,924.0 1456.0,956.0 1441.5,951.0" fill="#cfcfcc" />
<polygon points="1456.0,924.0 1464.5,925.0 1464.5,958.0 1456.0,956.0" fill="#d81a1a" />
<polygon points="1491.5,916.0 1498.0,917.0 1498.0,954.0 1491.5,953.0" fill="#d81a1a" />
<polygon points="689.0,833.0 700.0,835.5 702.0,876.0 691.0,873.0" fill="#dadad7" />
<polygon points="702.0,906.0 713.0,908.0 716.0,976.0 705.0,973.0" fill="#6a6a6a" />
<polygon points="704.0,910.0 711.0,911.5 713.5,972.0 706.5,970.0" fill="#8c8c8c" />
<polygon points="1528.0,517.0 1676.0,437.0 1814.0,435.0 1816.0,446.0 1804.0,452.0 1684.0,515.0 1533.0,520.0" fill="#3d3d3d" />
<polygon points="1676.0,437.0 1814.0,435.0 1816.0,446.0 1679.0,448.0" fill="#5b5b5b" />
<polygon points="1534.0,519.0 1672.0,446.0 1803.0,451.0 1684.0,514.5" fill="#050505" />
<line x1="1669.0" y1="448.0" x2="1646.0" y2="516.0" stroke="#3a3a3a" stroke-width="4.5" />
<line x1="1805.0" y1="450.0" x2="1785.0" y2="512.0" stroke="#2a2a2a" stroke-width="5" />
<polygon points="1684.0,513.0 1838.0,505.5 1838.0,512.0 1684.0,519.0" fill="#1a1a1a" />
<polygon points="495.0,562.0 636.0,545.0 636.0,562.5 495.0,575.5" fill="#1f1f1f" />
<polygon points="495.0,562.0 636.0,545.0 636.0,546.8 495.0,563.4" fill="#3a3a3a" />
<polygon points="495.0,567.0 636.0,551.5 636.0,555.9 495.0,570.4" fill="#f0efea" />
<polygon points="495.0,575.5 636.0,562.5 636.0,564.2 495.0,576.9" fill="#4b4b4b" />
<polygon points="636.0,545.0 900.0,538.3 900.0,555.8 636.0,562.5" fill="#242424" />
<polygon points="636.0,545.0 900.0,538.3 900.0,544.8 636.0,551.5" fill="#3e3e3e" />
<polygon points="636.0,545.0 900.0,538.3 900.0,539.5 636.0,546.2" fill="#2a2a2a" />
<polygon points="636.0,551.5 900.0,544.8 900.0,549.1 636.0,555.9" fill="#f1f0eb" />
<polygon points="636.0,562.5 900.0,555.8 900.0,558.6 636.0,565.3" fill="#4b4b4b" />
<polygon points="900.0,538.3 1100.0,533.2 1100.0,550.7 900.0,555.8" fill="#242424" />
<polygon points="900.0,538.3 1100.0,533.2 1100.0,538.6 900.0,544.8" fill="#3e3e3e" />
<polygon points="900.0,538.3 1100.0,533.2 1100.0,534.4 900.0,539.5" fill="#2a2a2a" />
<polygon points="900.0,544.8 1100.0,538.6 1100.0,543.2 900.0,549.1" fill="#f1f0eb" />
<polygon points="900.0,555.8 1100.0,550.7 1100.0,553.5 900.0,558.6" fill="#4b4b4b" />
<polygon points="1100.0,533.2 1300.0,528.1 1300.0,545.6 1100.0,550.7" fill="#242424" />
<polygon points="1100.0,533.2 1300.0,528.1 1300.0,532.5 1100.0,538.6" fill="#3e3e3e" />
<polygon points="1100.0,533.2 1300.0,528.1 1300.0,529.3 1100.0,534.4" fill="#2a2a2a" />
<polygon points="1100.0,538.6 1300.0,532.5 1300.0,537.3 1100.0,543.2" fill="#f1f0eb" />
<polygon points="1100.0,550.7 1300.0,545.6 1300.0,548.4 1100.0,553.5" fill="#4b4b4b" />
<polygon points="1300.0,528.1 1500.0,523.0 1500.0,540.5 1300.0,545.6" fill="#242424" />
<polygon points="1300.0,528.1 1500.0,523.0 1500.0,526.3 1300.0,532.5" fill="#3e3e3e" />
<polygon points="1300.0,528.1 1500.0,523.0 1500.0,524.2 1300.0,529.3" fill="#2a2a2a" />
<polygon points="1300.0,532.5 1500.0,526.3 1500.0,531.4 1300.0,537.3" fill="#f1f0eb" />
<polygon points="1300.0,545.6 1500.0,540.5 1500.0,543.3 1300.0,548.4" fill="#4b4b4b" />
<polygon points="1500.0,523.0 1600.0,520.4 1600.0,537.4 1500.0,540.5" fill="#242424" />
<polygon points="1500.0,523.0 1600.0,520.4 1600.0,523.2 1500.0,526.3" fill="#3e3e3e" />
<polygon points="1500.0,523.0 1600.0,520.4 1600.0,521.6 1500.0,524.2" fill="#2a2a2a" />
<polygon points="1500.0,526.3 1600.0,523.2 1600.0,528.3 1500.0,531.4" fill="#f1f0eb" />
<polygon points="1500.0,540.5 1600.0,537.4 1600.0,540.1 1500.0,543.3" fill="#4b4b4b" />
<polygon points="1600.0,520.4 1800.0,515.4 1800.0,531.2 1600.0,537.4" fill="#242424" />
<polygon points="1600.0,520.4 1800.0,515.4 1800.0,518.4 1600.0,523.2" fill="#3e3e3e" />
<polygon points="1600.0,520.4 1800.0,515.4 1800.0,516.5 1600.0,521.6" fill="#2a2a2a" />
<polygon points="1600.0,523.2 1800.0,518.4 1800.0,522.8 1600.0,528.3" fill="#f1f0eb" />
<polygon points="1600.0,537.4 1800.0,531.2 1800.0,533.8 1600.0,540.1" fill="#4b4b4b" />
<polygon points="1800.0,515.4 2000.0,510.3 2000.0,525.1 1800.0,531.2" fill="#242424" />
<polygon points="1800.0,515.4 2000.0,510.3 2000.0,513.5 1800.0,518.4" fill="#3e3e3e" />
<polygon points="1800.0,515.4 2000.0,510.3 2000.0,511.3 1800.0,516.5" fill="#2a2a2a" />
<polygon points="1800.0,518.4 2000.0,513.5 2000.0,517.4 1800.0,522.8" fill="#f1f0eb" />
<polygon points="1800.0,531.2 2000.0,525.1 2000.0,527.5 1800.0,533.8" fill="#4b4b4b" />
<polygon points="2000.0,510.3 2300.0,502.6 2300.0,515.8 2000.0,525.1" fill="#242424" />
<polygon points="2000.0,510.3 2300.0,502.6 2300.0,506.1 2000.0,513.5" fill="#3e3e3e" />
<polygon points="2000.0,510.3 2300.0,502.6 2300.0,503.5 2000.0,511.3" fill="#2a2a2a" />
<polygon points="2000.0,513.5 2300.0,506.1 2300.0,509.2 2000.0,517.4" fill="#f1f0eb" />
<polygon points="2000.0,525.1 2300.0,515.8 2300.0,518.0 2000.0,527.5" fill="#4b4b4b" />
<polygon points="2300.0,502.6 2621.0,494.4 2621.0,505.9 2300.0,515.8" fill="#242424" />
<polygon points="2300.0,502.6 2621.0,494.4 2621.0,497.4 2300.0,506.1" fill="#3e3e3e" />
<polygon points="2300.0,502.6 2621.0,494.4 2621.0,495.2 2300.0,503.5" fill="#2a2a2a" />
<polygon points="2300.0,506.1 2621.0,497.4 2621.0,500.2 2300.0,509.2" fill="#f1f0eb" />
<polygon points="2300.0,515.8 2621.0,505.9 2621.0,507.8 2300.0,518.0" fill="#4b4b4b" />
<ellipse cx="2621" cy="500.1" rx="2.5" ry="5.7" fill="#777"/>
<polygon points="571.0,574.5 591.0,574.0 591.0,578.0 571.0,578.5" fill="#7a7a78" />
<polygon points="691.0,563.2 711.0,562.7 711.0,566.7 691.0,567.2" fill="#7a7a78" />
<polygon points="896.0,557.9 916.0,557.4 916.0,561.4 896.0,561.9" fill="#7a7a78" />
<polygon points="1243.0,549.1 1263.0,548.6 1263.0,552.6 1243.0,553.1" fill="#7a7a78" />
<polygon points="1453.0,543.8 1473.0,543.3 1473.0,547.3 1453.0,547.8" fill="#7a7a78" />
<polygon points="1546.0,541.1 1566.0,540.6 1566.0,544.6 1546.0,545.1" fill="#7a7a78" />
<polygon points="2049.0,525.1 2069.0,524.6 2069.0,528.6 2049.0,529.1" fill="#7a7a78" />
<polygon points="2227.0,519.5 2247.0,519.0 2247.0,523.0 2227.0,523.5" fill="#7a7a78" />
<polygon points="2515.0,510.4 2535.0,509.9 2535.0,513.9 2515.0,514.4" fill="#7a7a78" />
<path d="M1879.0 259.0 L1645.5 259.0 L1645.5 460.0" fill="none" stroke="#1f3f94" stroke-width="2.2" stroke-dasharray="7.6 4.2"/>
<circle cx="1879.3" cy="259.0" r="7.0" fill="#1f3f94" />
<circle cx="1646.5" cy="460.0" r="7.0" fill="#1f3f94" />
<text x="1900.0" y="277.5" font-size="47.5" fill="#1f3f94" textLength="211.0" lengthAdjust="spacing">太阳能板</text>
<path d="M2328.0 382.6 L2123.0 382.6 L2123.0 951.0" fill="none" stroke="#1f3f94" stroke-width="2.2" stroke-dasharray="7.6 4.2"/>
<circle cx="2328.0" cy="382.6" r="7.0" fill="#1f3f94" />
<circle cx="2123.0" cy="951.3" r="7.0" fill="#1f3f94" />
<text x="2358.0" y="398.5" font-size="47.5" fill="#1f3f94" textLength="367.0" lengthAdjust="spacing">亲子坐姿拉伸器</text>
<path d="M487.0 1682.6 L414.0 1682.6 L414.0 1040.0" fill="none" stroke="#1f3f94" stroke-width="2.2" stroke-dasharray="7.6 4.2"/>
<circle cx="486.8" cy="1682.6" r="7.0" fill="#1f3f94" />
<circle cx="407.0" cy="1039.0" r="7.0" fill="#1f3f94" />
<text x="547.0" y="1701.5" font-size="47.5" fill="#1f3f94" textLength="364.0" lengthAdjust="spacing">智能抬腿训练器</text>
<path d="M786.0 1564.4 L615.5 1564.4 L615.5 1448.0" fill="none" stroke="#1f3f94" stroke-width="2.2" stroke-dasharray="7.6 4.2"/>
<circle cx="786.4" cy="1564.4" r="7.0" fill="#1f3f94" />
<circle cx="616.0" cy="1447.8" r="7.0" fill="#1f3f94" />
<text x="808.5" y="1584.5" font-size="47.5" fill="#1f3f94" textLength="366.0" lengthAdjust="spacing">智能扭腰训练器</text>
<path d="M1254.5 1606.0 L1254.5 1319.0" fill="none" stroke="#1f3f94" stroke-width="2.2" stroke-dasharray="7.6 4.2"/>
<circle cx="1254.0" cy="1606.0" r="7.0" fill="#1f3f94" />
<circle cx="1255.7" cy="1319.0" r="7.0" fill="#1f3f94" />
<text x="1060.0" y="1686" font-size="47.5" fill="#1f3f94" textLength="367.0" lengthAdjust="spacing">智能仰卧起坐板</text>
<path d="M1403.8 1534.7 L1403.8 997.5" fill="none" stroke="#1f3f94" stroke-width="2.2" stroke-dasharray="7.6 4.2"/>
<circle cx="1402.3" cy="1534.7" r="7.0" fill="#1f3f94" />
<circle cx="1405.8" cy="997.5" r="7.0" fill="#1f3f94" />
<text x="1331.5" y="1610.5" font-size="47.5" fill="#1f3f94" textLength="158.0" lengthAdjust="spacing">揉推器</text>
<path d="M1576.0 1430.0 L1768.4 1430.0 L1768.4 1212.0" fill="none" stroke="#1f3f94" stroke-width="2.2" stroke-dasharray="7.6 4.2"/>
<circle cx="1576.0" cy="1430.0" r="7.0" fill="#1f3f94" />
<circle cx="1768.0" cy="1212.0" r="7.0" fill="#1f3f94" />
<text x="1365.5" y="1504" font-size="47.5" fill="#1f3f94" textLength="365.0" lengthAdjust="spacing">智能斜躺健身车</text>
<path d="M1966.0 1360.0 L1966.0 1069.0" fill="none" stroke="#1f3f94" stroke-width="2.2" stroke-dasharray="7.6 4.2"/>
<circle cx="1965.3" cy="1360.0" r="7.0" fill="#1f3f94" />
<circle cx="1967.0" cy="1069.0" r="7.0" fill="#1f3f94" />
<text x="1832.0" y="1422" font-size="47.5" fill="#1f3f94" textLength="261.0" lengthAdjust="spacing">蹬力训练器</text>
<path d="M2208.4 1477.0 L2356.0 1477.0 L2356.0 1061.0" fill="none" stroke="#1f3f94" stroke-width="2.2" stroke-dasharray="7.6 4.2"/>
<circle cx="2208.4" cy="1477.0" r="7.0" fill="#1f3f94" />
<circle cx="2355.4" cy="1060.7" r="7.0" fill="#1f3f94" />
<text x="1936.0" y="1495.5" font-size="47.5" fill="#1f3f94" textLength="260.0" lengthAdjust="spacing">智能健身车</text>
</svg>
</body></html>
